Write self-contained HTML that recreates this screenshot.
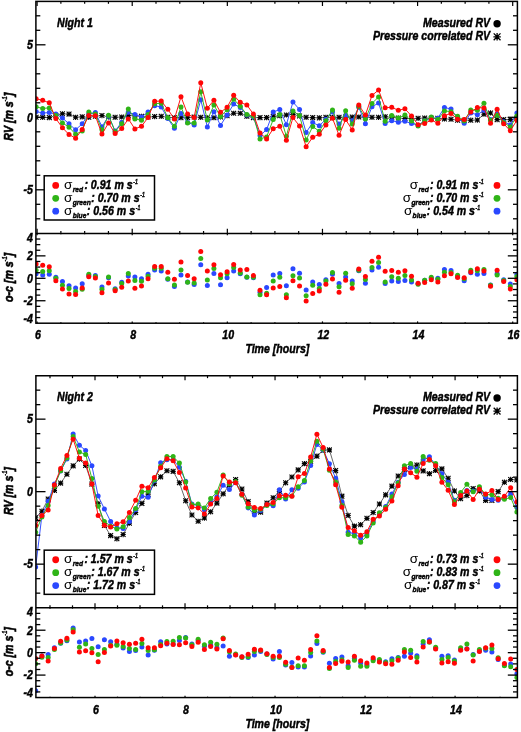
<!DOCTYPE html>
<html><head><meta charset="utf-8"><title>RV nights</title>
<style>
html,body{margin:0;padding:0;background:#fff}
svg{display:block}
text{font-family:"Liberation Sans",sans-serif;fill:#000}
.b{font-weight:bold;font-style:italic;stroke:#000;stroke-width:0.45px}
.s{font-weight:normal;font-style:normal}
.r{stroke-width:0.6px}
.u{stroke-width:0.3px}
</style></head><body>
<svg width="521" height="732" viewBox="0 0 521 732">
<rect width="521" height="732" fill="#fff"/>
<g>
<clipPath id="c0"><rect x="35.9" y="1.4" width="481.5" height="232"/></clipPath>
<clipPath id="c0l"><rect x="35.9" y="233.4" width="481.5" height="89.8"/></clipPath>
<g clip-path="url(#c0)">
<polyline points="36.1,117.3 42.69,117.3 49.27,117.59 55.86,115.41 62.44,113.82 69.03,114.11 75.62,117.3 82.2,116.86 88.79,117.3 95.37,116.28 101.96,115.56 108.55,117.01 115.13,117.3 121.72,117.01 128.3,115.27 134.89,115.99 141.48,116.28 148.06,117.01 154.65,116.58 161.23,116.28 167.82,117.3 174.41,117.73 180.99,117.73 187.58,117.73 194.16,117.01 200.75,117.3 207.34,117.73 213.92,117.73 220.51,117.01 227.09,115.7 233.68,113.24 240.27,113.24 246.85,116.28 253.44,117.59 260.02,117.59 266.61,117.59 273.2,116.28 279.78,115.7 286.37,114.98 292.95,114.4 299.54,115.99 306.13,117.3 312.71,117.59 319.3,117.88 325.88,117.3 332.47,117.3 339.06,117.3 345.64,117.01 352.23,117.01 358.81,117.01 365.4,117.3 371.99,117.3 378.57,117.3 385.16,116.72 391.74,117.3 398.33,118.02 404.92,118.61 411.5,118.61 418.09,118.31 424.67,118.02 431.26,118.31 437.85,118.31 444.43,118.89 451.02,119.19 457.6,120.2 464.19,120.2 470.78,120.2 477.36,120.05 483.95,114.25 490.53,112.95 497.12,119.62 503.71,119.62 510.29,119.62 516.88,118.31" fill="none" stroke="#000" stroke-width="0.6"/>
<path d="M33.5 117.3h5.2M36.1 114.7v5.2M33.7 114.9l4.8 4.8M33.7 119.7l4.8 -4.8M40.09 117.3h5.2M42.69 114.7v5.2M40.29 114.9l4.8 4.8M40.29 119.7l4.8 -4.8M46.67 117.59h5.2M49.27 114.99v5.2M46.87 115.19l4.8 4.8M46.87 119.99l4.8 -4.8M53.26 115.41h5.2M55.86 112.81v5.2M53.46 113.01l4.8 4.8M53.46 117.81l4.8 -4.8M59.84 113.82h5.2M62.44 111.22v5.2M60.04 111.42l4.8 4.8M60.04 116.22l4.8 -4.8M66.43 114.11h5.2M69.03 111.51v5.2M66.63 111.71l4.8 4.8M66.63 116.51l4.8 -4.8M73.02 117.3h5.2M75.62 114.7v5.2M73.22 114.9l4.8 4.8M73.22 119.7l4.8 -4.8M79.6 116.86h5.2M82.2 114.27v5.2M79.8 114.46l4.8 4.8M79.8 119.27l4.8 -4.8M86.19 117.3h5.2M88.79 114.7v5.2M86.39 114.9l4.8 4.8M86.39 119.7l4.8 -4.8M92.77 116.28h5.2M95.37 113.69v5.2M92.97 113.88l4.8 4.8M92.97 118.69l4.8 -4.8M99.36 115.56h5.2M101.96 112.96v5.2M99.56 113.16l4.8 4.8M99.56 117.96l4.8 -4.8M105.95 117.01h5.2M108.55 114.41v5.2M106.15 114.61l4.8 4.8M106.15 119.41l4.8 -4.8M112.53 117.3h5.2M115.13 114.7v5.2M112.73 114.9l4.8 4.8M112.73 119.7l4.8 -4.8M119.12 117.01h5.2M121.72 114.41v5.2M119.32 114.61l4.8 4.8M119.32 119.41l4.8 -4.8M125.7 115.27h5.2M128.3 112.67v5.2M125.9 112.87l4.8 4.8M125.9 117.67l4.8 -4.8M132.29 115.99h5.2M134.89 113.39v5.2M132.49 113.59l4.8 4.8M132.49 118.39l4.8 -4.8M138.88 116.28h5.2M141.48 113.69v5.2M139.08 113.88l4.8 4.8M139.08 118.69l4.8 -4.8M145.46 117.01h5.2M148.06 114.41v5.2M145.66 114.61l4.8 4.8M145.66 119.41l4.8 -4.8M152.05 116.58h5.2M154.65 113.98v5.2M152.25 114.17l4.8 4.8M152.25 118.98l4.8 -4.8M158.63 116.28h5.2M161.23 113.69v5.2M158.83 113.88l4.8 4.8M158.83 118.69l4.8 -4.8M165.22 117.3h5.2M167.82 114.7v5.2M165.42 114.9l4.8 4.8M165.42 119.7l4.8 -4.8M171.81 117.73h5.2M174.41 115.14v5.2M172.01 115.33l4.8 4.8M172.01 120.14l4.8 -4.8M178.39 117.73h5.2M180.99 115.14v5.2M178.59 115.33l4.8 4.8M178.59 120.14l4.8 -4.8M184.98 117.73h5.2M187.58 115.14v5.2M185.18 115.33l4.8 4.8M185.18 120.14l4.8 -4.8M191.56 117.01h5.2M194.16 114.41v5.2M191.76 114.61l4.8 4.8M191.76 119.41l4.8 -4.8M198.15 117.3h5.2M200.75 114.7v5.2M198.35 114.9l4.8 4.8M198.35 119.7l4.8 -4.8M204.74 117.73h5.2M207.34 115.14v5.2M204.94 115.33l4.8 4.8M204.94 120.14l4.8 -4.8M211.32 117.73h5.2M213.92 115.14v5.2M211.52 115.33l4.8 4.8M211.52 120.14l4.8 -4.8M217.91 117.01h5.2M220.51 114.41v5.2M218.11 114.61l4.8 4.8M218.11 119.41l4.8 -4.8M224.49 115.7h5.2M227.09 113.11v5.2M224.69 113.3l4.8 4.8M224.69 118.11l4.8 -4.8M231.08 113.24h5.2M233.68 110.64v5.2M231.28 110.84l4.8 4.8M231.28 115.64l4.8 -4.8M237.67 113.24h5.2M240.27 110.64v5.2M237.87 110.84l4.8 4.8M237.87 115.64l4.8 -4.8M244.25 116.28h5.2M246.85 113.69v5.2M244.45 113.88l4.8 4.8M244.45 118.69l4.8 -4.8M250.84 117.59h5.2M253.44 114.99v5.2M251.04 115.19l4.8 4.8M251.04 119.99l4.8 -4.8M257.42 117.59h5.2M260.02 114.99v5.2M257.62 115.19l4.8 4.8M257.62 119.99l4.8 -4.8M264.01 117.59h5.2M266.61 114.99v5.2M264.21 115.19l4.8 4.8M264.21 119.99l4.8 -4.8M270.6 116.28h5.2M273.2 113.69v5.2M270.8 113.88l4.8 4.8M270.8 118.69l4.8 -4.8M277.18 115.7h5.2M279.78 113.11v5.2M277.38 113.3l4.8 4.8M277.38 118.11l4.8 -4.8M283.77 114.98h5.2M286.37 112.38v5.2M283.97 112.58l4.8 4.8M283.97 117.38l4.8 -4.8M290.35 114.4h5.2M292.95 111.8v5.2M290.55 112l4.8 4.8M290.55 116.8l4.8 -4.8M296.94 115.99h5.2M299.54 113.39v5.2M297.14 113.59l4.8 4.8M297.14 118.39l4.8 -4.8M303.53 117.3h5.2M306.13 114.7v5.2M303.73 114.9l4.8 4.8M303.73 119.7l4.8 -4.8M310.11 117.59h5.2M312.71 114.99v5.2M310.31 115.19l4.8 4.8M310.31 119.99l4.8 -4.8M316.7 117.88h5.2M319.3 115.28v5.2M316.9 115.48l4.8 4.8M316.9 120.28l4.8 -4.8M323.28 117.3h5.2M325.88 114.7v5.2M323.48 114.9l4.8 4.8M323.48 119.7l4.8 -4.8M329.87 117.3h5.2M332.47 114.7v5.2M330.07 114.9l4.8 4.8M330.07 119.7l4.8 -4.8M336.46 117.3h5.2M339.06 114.7v5.2M336.66 114.9l4.8 4.8M336.66 119.7l4.8 -4.8M343.04 117.01h5.2M345.64 114.41v5.2M343.24 114.61l4.8 4.8M343.24 119.41l4.8 -4.8M349.63 117.01h5.2M352.23 114.41v5.2M349.83 114.61l4.8 4.8M349.83 119.41l4.8 -4.8M356.21 117.01h5.2M358.81 114.41v5.2M356.41 114.61l4.8 4.8M356.41 119.41l4.8 -4.8M362.8 117.3h5.2M365.4 114.7v5.2M363 114.9l4.8 4.8M363 119.7l4.8 -4.8M369.39 117.3h5.2M371.99 114.7v5.2M369.59 114.9l4.8 4.8M369.59 119.7l4.8 -4.8M375.97 117.3h5.2M378.57 114.7v5.2M376.17 114.9l4.8 4.8M376.17 119.7l4.8 -4.8M382.56 116.72h5.2M385.16 114.12v5.2M382.76 114.32l4.8 4.8M382.76 119.12l4.8 -4.8M389.14 117.3h5.2M391.74 114.7v5.2M389.34 114.9l4.8 4.8M389.34 119.7l4.8 -4.8M395.73 118.02h5.2M398.33 115.42v5.2M395.93 115.62l4.8 4.8M395.93 120.42l4.8 -4.8M402.32 118.61h5.2M404.92 116.01v5.2M402.52 116.2l4.8 4.8M402.52 121.01l4.8 -4.8M408.9 118.61h5.2M411.5 116.01v5.2M409.1 116.2l4.8 4.8M409.1 121.01l4.8 -4.8M415.49 118.31h5.2M418.09 115.72v5.2M415.69 115.91l4.8 4.8M415.69 120.72l4.8 -4.8M422.07 118.02h5.2M424.67 115.42v5.2M422.27 115.62l4.8 4.8M422.27 120.42l4.8 -4.8M428.66 118.31h5.2M431.26 115.72v5.2M428.86 115.91l4.8 4.8M428.86 120.72l4.8 -4.8M435.25 118.31h5.2M437.85 115.72v5.2M435.45 115.91l4.8 4.8M435.45 120.72l4.8 -4.8M441.83 118.89h5.2M444.43 116.3v5.2M442.03 116.49l4.8 4.8M442.03 121.3l4.8 -4.8M448.42 119.19h5.2M451.02 116.59v5.2M448.62 116.78l4.8 4.8M448.62 121.59l4.8 -4.8M455 120.2h5.2M457.6 117.6v5.2M455.2 117.8l4.8 4.8M455.2 122.6l4.8 -4.8M461.59 120.2h5.2M464.19 117.6v5.2M461.79 117.8l4.8 4.8M461.79 122.6l4.8 -4.8M468.18 120.2h5.2M470.78 117.6v5.2M468.38 117.8l4.8 4.8M468.38 122.6l4.8 -4.8M474.76 120.05h5.2M477.36 117.45v5.2M474.96 117.65l4.8 4.8M474.96 122.45l4.8 -4.8M481.35 114.25h5.2M483.95 111.66v5.2M481.55 111.85l4.8 4.8M481.55 116.66l4.8 -4.8M487.93 112.95h5.2M490.53 110.35v5.2M488.13 110.55l4.8 4.8M488.13 115.35l4.8 -4.8M494.52 119.62h5.2M497.12 117.02v5.2M494.72 117.22l4.8 4.8M494.72 122.02l4.8 -4.8M501.11 119.62h5.2M503.71 117.02v5.2M501.31 117.22l4.8 4.8M501.31 122.02l4.8 -4.8M507.69 119.62h5.2M510.29 117.02v5.2M507.89 117.22l4.8 4.8M507.89 122.02l4.8 -4.8M514.28 118.31h5.2M516.88 115.72v5.2M514.48 115.91l4.8 4.8M514.48 120.72l4.8 -4.8" stroke="#000" stroke-width="1.1" fill="none"/>
<polyline points="36.1,111.5 42.69,113.09 49.27,112.52 55.86,114.11 62.44,118.02 69.03,123.83 75.62,129.77 82.2,123.83 88.79,114.11 95.37,112.52 101.96,126.72 108.55,116.28 115.13,130.93 121.72,122.23 128.3,112.37 134.89,114.4 141.48,117.01 148.06,111.94 154.65,105.7 161.23,107 167.82,118.61 174.41,128.32 180.99,113.38 187.58,122.38 194.16,124.98 200.75,99.75 207.34,127.02 213.92,111.64 220.51,125.42 227.09,114.98 233.68,103.96 240.27,107.44 246.85,114.98 253.44,117.01 260.02,135.57 266.61,129.62 273.2,111.94 279.78,109.61 286.37,124.69 292.95,102.07 299.54,109.47 306.13,132.53 312.71,122.52 319.3,125.85 325.88,119.19 332.47,111.94 339.06,123.97 345.64,115.27 352.23,120.63 358.81,107.3 365.4,123.68 371.99,106.72 378.57,103.09 385.16,123.39 391.74,120.63 398.33,122.23 404.92,121.36 411.5,123.39 418.09,125.27 424.67,120.63 431.26,118.31 437.85,118.31 444.43,107.44 451.02,109.03 457.6,118.31 464.19,123.24 470.78,112.95 477.36,114.69 483.95,110.34 490.53,119.62 497.12,113.67 503.71,121.65 510.29,124.98 516.88,112.95" fill="none" stroke="#2a48ff" stroke-width="0.95"/>
<g fill="#2a48ff"><circle cx="36.1" cy="111.5" r="2.5"/><circle cx="42.69" cy="113.09" r="2.5"/><circle cx="49.27" cy="112.52" r="2.5"/><circle cx="55.86" cy="114.11" r="2.5"/><circle cx="62.44" cy="118.02" r="2.5"/><circle cx="69.03" cy="123.83" r="2.5"/><circle cx="75.62" cy="129.77" r="2.5"/><circle cx="82.2" cy="123.83" r="2.5"/><circle cx="88.79" cy="114.11" r="2.5"/><circle cx="95.37" cy="112.52" r="2.5"/><circle cx="101.96" cy="126.72" r="2.5"/><circle cx="108.55" cy="116.28" r="2.5"/><circle cx="115.13" cy="130.93" r="2.5"/><circle cx="121.72" cy="122.23" r="2.5"/><circle cx="128.3" cy="112.37" r="2.5"/><circle cx="134.89" cy="114.4" r="2.5"/><circle cx="141.48" cy="117.01" r="2.5"/><circle cx="148.06" cy="111.94" r="2.5"/><circle cx="154.65" cy="105.7" r="2.5"/><circle cx="161.23" cy="107" r="2.5"/><circle cx="167.82" cy="118.61" r="2.5"/><circle cx="174.41" cy="128.32" r="2.5"/><circle cx="180.99" cy="113.38" r="2.5"/><circle cx="187.58" cy="122.38" r="2.5"/><circle cx="194.16" cy="124.98" r="2.5"/><circle cx="200.75" cy="99.75" r="2.5"/><circle cx="207.34" cy="127.02" r="2.5"/><circle cx="213.92" cy="111.64" r="2.5"/><circle cx="220.51" cy="125.42" r="2.5"/><circle cx="227.09" cy="114.98" r="2.5"/><circle cx="233.68" cy="103.96" r="2.5"/><circle cx="240.27" cy="107.44" r="2.5"/><circle cx="246.85" cy="114.98" r="2.5"/><circle cx="253.44" cy="117.01" r="2.5"/><circle cx="260.02" cy="135.57" r="2.5"/><circle cx="266.61" cy="129.62" r="2.5"/><circle cx="273.2" cy="111.94" r="2.5"/><circle cx="279.78" cy="109.61" r="2.5"/><circle cx="286.37" cy="124.69" r="2.5"/><circle cx="292.95" cy="102.07" r="2.5"/><circle cx="299.54" cy="109.47" r="2.5"/><circle cx="306.13" cy="132.53" r="2.5"/><circle cx="312.71" cy="122.52" r="2.5"/><circle cx="319.3" cy="125.85" r="2.5"/><circle cx="325.88" cy="119.19" r="2.5"/><circle cx="332.47" cy="111.94" r="2.5"/><circle cx="339.06" cy="123.97" r="2.5"/><circle cx="345.64" cy="115.27" r="2.5"/><circle cx="352.23" cy="120.63" r="2.5"/><circle cx="358.81" cy="107.3" r="2.5"/><circle cx="365.4" cy="123.68" r="2.5"/><circle cx="371.99" cy="106.72" r="2.5"/><circle cx="378.57" cy="103.09" r="2.5"/><circle cx="385.16" cy="123.39" r="2.5"/><circle cx="391.74" cy="120.63" r="2.5"/><circle cx="398.33" cy="122.23" r="2.5"/><circle cx="404.92" cy="121.36" r="2.5"/><circle cx="411.5" cy="123.39" r="2.5"/><circle cx="418.09" cy="125.27" r="2.5"/><circle cx="424.67" cy="120.63" r="2.5"/><circle cx="431.26" cy="118.31" r="2.5"/><circle cx="437.85" cy="118.31" r="2.5"/><circle cx="444.43" cy="107.44" r="2.5"/><circle cx="451.02" cy="109.03" r="2.5"/><circle cx="457.6" cy="118.31" r="2.5"/><circle cx="464.19" cy="123.24" r="2.5"/><circle cx="470.78" cy="112.95" r="2.5"/><circle cx="477.36" cy="114.69" r="2.5"/><circle cx="483.95" cy="110.34" r="2.5"/><circle cx="490.53" cy="119.62" r="2.5"/><circle cx="497.12" cy="113.67" r="2.5"/><circle cx="503.71" cy="121.65" r="2.5"/><circle cx="510.29" cy="124.98" r="2.5"/><circle cx="516.88" cy="112.95" r="2.5"/></g>
<polyline points="36.1,106.86 42.69,108.45 49.27,107.88 55.86,115.41 62.44,122.95 69.03,127.16 75.62,134.26 82.2,131.07 88.79,112.08 95.37,114.11 101.96,129.77 108.55,115.27 115.13,131.66 121.72,123.68 128.3,109.03 134.89,118.89 141.48,120.2 148.06,114.4 154.65,103.67 161.23,103.23 167.82,117.73 174.41,126.29 180.99,107 187.58,122.95 194.16,122.95 200.75,91.78 207.34,120.05 213.92,105.12 220.51,116.43 227.09,109.76 233.68,99.17 240.27,106.28 246.85,114.55 253.44,116.28 260.02,138.91 266.61,136.88 273.2,119.62 279.78,114.4 286.37,136.29 292.95,111.06 299.54,115.56 306.13,139.92 312.71,126.58 319.3,131.22 325.88,120.63 332.47,109.91 339.06,128.18 345.64,110.63 352.23,123.97 358.81,106.57 365.4,118.89 371.99,103.38 378.57,97 385.16,121.36 391.74,115.41 398.33,118.02 404.92,115.12 411.5,120.92 418.09,126 424.67,120.63 431.26,117.01 437.85,119.62 444.43,110.92 451.02,111.64 457.6,116.28 464.19,120.92 470.78,109.91 477.36,110.34 483.95,103.23 490.53,120.34 497.12,115.27 503.71,122.38 510.29,127.02 516.88,115.99" fill="none" stroke="#2fb417" stroke-width="0.95"/>
<g fill="#2fb417"><circle cx="36.1" cy="106.86" r="2.5"/><circle cx="42.69" cy="108.45" r="2.5"/><circle cx="49.27" cy="107.88" r="2.5"/><circle cx="55.86" cy="115.41" r="2.5"/><circle cx="62.44" cy="122.95" r="2.5"/><circle cx="69.03" cy="127.16" r="2.5"/><circle cx="75.62" cy="134.26" r="2.5"/><circle cx="82.2" cy="131.07" r="2.5"/><circle cx="88.79" cy="112.08" r="2.5"/><circle cx="95.37" cy="114.11" r="2.5"/><circle cx="101.96" cy="129.77" r="2.5"/><circle cx="108.55" cy="115.27" r="2.5"/><circle cx="115.13" cy="131.66" r="2.5"/><circle cx="121.72" cy="123.68" r="2.5"/><circle cx="128.3" cy="109.03" r="2.5"/><circle cx="134.89" cy="118.89" r="2.5"/><circle cx="141.48" cy="120.2" r="2.5"/><circle cx="148.06" cy="114.4" r="2.5"/><circle cx="154.65" cy="103.67" r="2.5"/><circle cx="161.23" cy="103.23" r="2.5"/><circle cx="167.82" cy="117.73" r="2.5"/><circle cx="174.41" cy="126.29" r="2.5"/><circle cx="180.99" cy="107" r="2.5"/><circle cx="187.58" cy="122.95" r="2.5"/><circle cx="194.16" cy="122.95" r="2.5"/><circle cx="200.75" cy="91.78" r="2.5"/><circle cx="207.34" cy="120.05" r="2.5"/><circle cx="213.92" cy="105.12" r="2.5"/><circle cx="220.51" cy="116.43" r="2.5"/><circle cx="227.09" cy="109.76" r="2.5"/><circle cx="233.68" cy="99.17" r="2.5"/><circle cx="240.27" cy="106.28" r="2.5"/><circle cx="246.85" cy="114.55" r="2.5"/><circle cx="253.44" cy="116.28" r="2.5"/><circle cx="260.02" cy="138.91" r="2.5"/><circle cx="266.61" cy="136.88" r="2.5"/><circle cx="273.2" cy="119.62" r="2.5"/><circle cx="279.78" cy="114.4" r="2.5"/><circle cx="286.37" cy="136.29" r="2.5"/><circle cx="292.95" cy="111.06" r="2.5"/><circle cx="299.54" cy="115.56" r="2.5"/><circle cx="306.13" cy="139.92" r="2.5"/><circle cx="312.71" cy="126.58" r="2.5"/><circle cx="319.3" cy="131.22" r="2.5"/><circle cx="325.88" cy="120.63" r="2.5"/><circle cx="332.47" cy="109.91" r="2.5"/><circle cx="339.06" cy="128.18" r="2.5"/><circle cx="345.64" cy="110.63" r="2.5"/><circle cx="352.23" cy="123.97" r="2.5"/><circle cx="358.81" cy="106.57" r="2.5"/><circle cx="365.4" cy="118.89" r="2.5"/><circle cx="371.99" cy="103.38" r="2.5"/><circle cx="378.57" cy="97" r="2.5"/><circle cx="385.16" cy="121.36" r="2.5"/><circle cx="391.74" cy="115.41" r="2.5"/><circle cx="398.33" cy="118.02" r="2.5"/><circle cx="404.92" cy="115.12" r="2.5"/><circle cx="411.5" cy="120.92" r="2.5"/><circle cx="418.09" cy="126" r="2.5"/><circle cx="424.67" cy="120.63" r="2.5"/><circle cx="431.26" cy="117.01" r="2.5"/><circle cx="437.85" cy="119.62" r="2.5"/><circle cx="444.43" cy="110.92" r="2.5"/><circle cx="451.02" cy="111.64" r="2.5"/><circle cx="457.6" cy="116.28" r="2.5"/><circle cx="464.19" cy="120.92" r="2.5"/><circle cx="470.78" cy="109.91" r="2.5"/><circle cx="477.36" cy="110.34" r="2.5"/><circle cx="483.95" cy="103.23" r="2.5"/><circle cx="490.53" cy="120.34" r="2.5"/><circle cx="497.12" cy="115.27" r="2.5"/><circle cx="503.71" cy="122.38" r="2.5"/><circle cx="510.29" cy="127.02" r="2.5"/><circle cx="516.88" cy="115.99" r="2.5"/></g>
<polyline points="36.1,98.74 42.69,100.33 49.27,102.8 55.86,118.61 62.44,127.74 69.03,134.56 75.62,138.18 82.2,129.48 88.79,115.41 95.37,115.85 101.96,134.12 108.55,122.95 115.13,133.54 121.72,128.61 128.3,118.89 134.89,128.9 141.48,126.29 148.06,117.59 154.65,101.35 161.23,101.06 167.82,109.33 174.41,119.04 180.99,96.71 187.58,114.11 194.16,117.44 200.75,82.79 207.34,108.16 213.92,100.33 220.51,112.37 227.09,107.3 233.68,95.26 240.27,102.36 246.85,104.97 253.44,114.11 260.02,132.96 266.61,138.91 273.2,128.75 279.78,126.29 286.37,140.21 292.95,117.59 299.54,126 306.13,146.73 312.71,137.16 319.3,134.26 325.88,124.98 332.47,118.31 339.06,135.28 345.64,119.62 352.23,129.91 358.81,104.97 365.4,115.12 371.99,95.41 378.57,90.04 385.16,107.73 391.74,107.3 398.33,110.34 404.92,108.75 411.5,115.99 418.09,124.69 424.67,123.53 431.26,120.05 437.85,123.24 444.43,115.7 451.02,113.38 457.6,119.19 464.19,119.62 470.78,112.08 477.36,107.58 483.95,108.02 490.53,123.24 497.12,109.33 503.71,123.68 510.29,130.78 516.88,120.34" fill="none" stroke="#ff0606" stroke-width="0.95"/>
<g fill="#ff0606"><circle cx="36.1" cy="98.74" r="2.5"/><circle cx="42.69" cy="100.33" r="2.5"/><circle cx="49.27" cy="102.8" r="2.5"/><circle cx="55.86" cy="118.61" r="2.5"/><circle cx="62.44" cy="127.74" r="2.5"/><circle cx="69.03" cy="134.56" r="2.5"/><circle cx="75.62" cy="138.18" r="2.5"/><circle cx="82.2" cy="129.48" r="2.5"/><circle cx="88.79" cy="115.41" r="2.5"/><circle cx="95.37" cy="115.85" r="2.5"/><circle cx="101.96" cy="134.12" r="2.5"/><circle cx="108.55" cy="122.95" r="2.5"/><circle cx="115.13" cy="133.54" r="2.5"/><circle cx="121.72" cy="128.61" r="2.5"/><circle cx="128.3" cy="118.89" r="2.5"/><circle cx="134.89" cy="128.9" r="2.5"/><circle cx="141.48" cy="126.29" r="2.5"/><circle cx="148.06" cy="117.59" r="2.5"/><circle cx="154.65" cy="101.35" r="2.5"/><circle cx="161.23" cy="101.06" r="2.5"/><circle cx="167.82" cy="109.33" r="2.5"/><circle cx="174.41" cy="119.04" r="2.5"/><circle cx="180.99" cy="96.71" r="2.5"/><circle cx="187.58" cy="114.11" r="2.5"/><circle cx="194.16" cy="117.44" r="2.5"/><circle cx="200.75" cy="82.79" r="2.5"/><circle cx="207.34" cy="108.16" r="2.5"/><circle cx="213.92" cy="100.33" r="2.5"/><circle cx="220.51" cy="112.37" r="2.5"/><circle cx="227.09" cy="107.3" r="2.5"/><circle cx="233.68" cy="95.26" r="2.5"/><circle cx="240.27" cy="102.36" r="2.5"/><circle cx="246.85" cy="104.97" r="2.5"/><circle cx="253.44" cy="114.11" r="2.5"/><circle cx="260.02" cy="132.96" r="2.5"/><circle cx="266.61" cy="138.91" r="2.5"/><circle cx="273.2" cy="128.75" r="2.5"/><circle cx="279.78" cy="126.29" r="2.5"/><circle cx="286.37" cy="140.21" r="2.5"/><circle cx="292.95" cy="117.59" r="2.5"/><circle cx="299.54" cy="126" r="2.5"/><circle cx="306.13" cy="146.73" r="2.5"/><circle cx="312.71" cy="137.16" r="2.5"/><circle cx="319.3" cy="134.26" r="2.5"/><circle cx="325.88" cy="124.98" r="2.5"/><circle cx="332.47" cy="118.31" r="2.5"/><circle cx="339.06" cy="135.28" r="2.5"/><circle cx="345.64" cy="119.62" r="2.5"/><circle cx="352.23" cy="129.91" r="2.5"/><circle cx="358.81" cy="104.97" r="2.5"/><circle cx="365.4" cy="115.12" r="2.5"/><circle cx="371.99" cy="95.41" r="2.5"/><circle cx="378.57" cy="90.04" r="2.5"/><circle cx="385.16" cy="107.73" r="2.5"/><circle cx="391.74" cy="107.3" r="2.5"/><circle cx="398.33" cy="110.34" r="2.5"/><circle cx="404.92" cy="108.75" r="2.5"/><circle cx="411.5" cy="115.99" r="2.5"/><circle cx="418.09" cy="124.69" r="2.5"/><circle cx="424.67" cy="123.53" r="2.5"/><circle cx="431.26" cy="120.05" r="2.5"/><circle cx="437.85" cy="123.24" r="2.5"/><circle cx="444.43" cy="115.7" r="2.5"/><circle cx="451.02" cy="113.38" r="2.5"/><circle cx="457.6" cy="119.19" r="2.5"/><circle cx="464.19" cy="119.62" r="2.5"/><circle cx="470.78" cy="112.08" r="2.5"/><circle cx="477.36" cy="107.58" r="2.5"/><circle cx="483.95" cy="108.02" r="2.5"/><circle cx="490.53" cy="123.24" r="2.5"/><circle cx="497.12" cy="109.33" r="2.5"/><circle cx="503.71" cy="123.68" r="2.5"/><circle cx="510.29" cy="130.78" r="2.5"/><circle cx="516.88" cy="120.34" r="2.5"/></g>
</g>
<g clip-path="url(#c0l)">
<g fill="#2a48ff"><circle cx="36.1" cy="273.81" r="2.5"/><circle cx="42.69" cy="275.05" r="2.5"/><circle cx="49.27" cy="274.37" r="2.5"/><circle cx="55.86" cy="277.29" r="2.5"/><circle cx="62.44" cy="281.55" r="2.5"/><circle cx="69.03" cy="285.82" r="2.5"/><circle cx="75.62" cy="287.95" r="2.5"/><circle cx="82.2" cy="283.69" r="2.5"/><circle cx="88.79" cy="275.83" r="2.5"/><circle cx="95.37" cy="275.38" r="2.5"/><circle cx="101.96" cy="286.94" r="2.5"/><circle cx="108.55" cy="277.74" r="2.5"/><circle cx="115.13" cy="288.85" r="2.5"/><circle cx="121.72" cy="282.34" r="2.5"/><circle cx="128.3" cy="276.06" r="2.5"/><circle cx="134.89" cy="277.07" r="2.5"/><circle cx="141.48" cy="278.86" r="2.5"/><circle cx="148.06" cy="274.37" r="2.5"/><circle cx="154.65" cy="269.88" r="2.5"/><circle cx="161.23" cy="271.12" r="2.5"/><circle cx="167.82" cy="279.31" r="2.5"/><circle cx="174.41" cy="286.49" r="2.5"/><circle cx="180.99" cy="274.93" r="2.5"/><circle cx="187.58" cy="281.89" r="2.5"/><circle cx="194.16" cy="284.47" r="2.5"/><circle cx="200.75" cy="264.72" r="2.5"/><circle cx="207.34" cy="285.48" r="2.5"/><circle cx="213.92" cy="273.59" r="2.5"/><circle cx="220.51" cy="284.81" r="2.5"/><circle cx="227.09" cy="277.74" r="2.5"/><circle cx="233.68" cy="271.12" r="2.5"/><circle cx="240.27" cy="273.81" r="2.5"/><circle cx="246.85" cy="277.29" r="2.5"/><circle cx="253.44" cy="277.85" r="2.5"/><circle cx="260.02" cy="292.21" r="2.5"/><circle cx="266.61" cy="287.61" r="2.5"/><circle cx="273.2" cy="274.93" r="2.5"/><circle cx="279.78" cy="273.59" r="2.5"/><circle cx="286.37" cy="285.82" r="2.5"/><circle cx="292.95" cy="268.76" r="2.5"/><circle cx="299.54" cy="273.25" r="2.5"/><circle cx="306.13" cy="290.08" r="2.5"/><circle cx="312.71" cy="282.11" r="2.5"/><circle cx="319.3" cy="284.47" r="2.5"/><circle cx="325.88" cy="279.76" r="2.5"/><circle cx="332.47" cy="274.15" r="2.5"/><circle cx="339.06" cy="283.46" r="2.5"/><circle cx="345.64" cy="276.95" r="2.5"/><circle cx="352.23" cy="281.11" r="2.5"/><circle cx="358.81" cy="270.78" r="2.5"/><circle cx="365.4" cy="283.24" r="2.5"/><circle cx="371.99" cy="270.11" r="2.5"/><circle cx="378.57" cy="267.3" r="2.5"/><circle cx="385.16" cy="283.46" r="2.5"/><circle cx="391.74" cy="280.88" r="2.5"/><circle cx="398.33" cy="281.55" r="2.5"/><circle cx="404.92" cy="280.43" r="2.5"/><circle cx="411.5" cy="282" r="2.5"/><circle cx="418.09" cy="283.69" r="2.5"/><circle cx="424.67" cy="280.32" r="2.5"/><circle cx="431.26" cy="278.3" r="2.5"/><circle cx="437.85" cy="278.3" r="2.5"/><circle cx="444.43" cy="269.44" r="2.5"/><circle cx="451.02" cy="270.45" r="2.5"/><circle cx="457.6" cy="276.84" r="2.5"/><circle cx="464.19" cy="280.66" r="2.5"/><circle cx="470.78" cy="272.69" r="2.5"/><circle cx="477.36" cy="274.15" r="2.5"/><circle cx="483.95" cy="273.59" r="2.5"/><circle cx="490.53" cy="285.03" r="2.5"/><circle cx="497.12" cy="273.7" r="2.5"/><circle cx="503.71" cy="279.87" r="2.5"/><circle cx="510.29" cy="283.91" r="2.5"/><circle cx="516.88" cy="274.15" r="2.5"/></g>
<g fill="#2fb417"><circle cx="36.1" cy="270.22" r="2.5"/><circle cx="42.69" cy="271.46" r="2.5"/><circle cx="49.27" cy="270.78" r="2.5"/><circle cx="55.86" cy="278.3" r="2.5"/><circle cx="62.44" cy="285.37" r="2.5"/><circle cx="69.03" cy="288.4" r="2.5"/><circle cx="75.62" cy="291.43" r="2.5"/><circle cx="82.2" cy="289.3" r="2.5"/><circle cx="88.79" cy="274.26" r="2.5"/><circle cx="95.37" cy="276.62" r="2.5"/><circle cx="101.96" cy="289.3" r="2.5"/><circle cx="108.55" cy="276.95" r="2.5"/><circle cx="115.13" cy="289.41" r="2.5"/><circle cx="121.72" cy="283.46" r="2.5"/><circle cx="128.3" cy="273.48" r="2.5"/><circle cx="134.89" cy="280.54" r="2.5"/><circle cx="141.48" cy="281.33" r="2.5"/><circle cx="148.06" cy="276.28" r="2.5"/><circle cx="154.65" cy="268.31" r="2.5"/><circle cx="161.23" cy="268.2" r="2.5"/><circle cx="167.82" cy="278.64" r="2.5"/><circle cx="174.41" cy="284.92" r="2.5"/><circle cx="180.99" cy="270" r="2.5"/><circle cx="187.58" cy="282.34" r="2.5"/><circle cx="194.16" cy="282.9" r="2.5"/><circle cx="200.75" cy="258.55" r="2.5"/><circle cx="207.34" cy="280.1" r="2.5"/><circle cx="213.92" cy="268.54" r="2.5"/><circle cx="220.51" cy="277.85" r="2.5"/><circle cx="227.09" cy="273.7" r="2.5"/><circle cx="233.68" cy="267.42" r="2.5"/><circle cx="240.27" cy="272.91" r="2.5"/><circle cx="246.85" cy="276.95" r="2.5"/><circle cx="253.44" cy="277.29" r="2.5"/><circle cx="260.02" cy="294.79" r="2.5"/><circle cx="266.61" cy="293.22" r="2.5"/><circle cx="273.2" cy="280.88" r="2.5"/><circle cx="279.78" cy="277.29" r="2.5"/><circle cx="286.37" cy="294.79" r="2.5"/><circle cx="292.95" cy="275.72" r="2.5"/><circle cx="299.54" cy="277.96" r="2.5"/><circle cx="306.13" cy="295.8" r="2.5"/><circle cx="312.71" cy="285.26" r="2.5"/><circle cx="319.3" cy="288.62" r="2.5"/><circle cx="325.88" cy="280.88" r="2.5"/><circle cx="332.47" cy="272.58" r="2.5"/><circle cx="339.06" cy="286.72" r="2.5"/><circle cx="345.64" cy="273.36" r="2.5"/><circle cx="352.23" cy="283.69" r="2.5"/><circle cx="358.81" cy="270.22" r="2.5"/><circle cx="365.4" cy="279.53" r="2.5"/><circle cx="371.99" cy="267.53" r="2.5"/><circle cx="378.57" cy="262.59" r="2.5"/><circle cx="385.16" cy="281.89" r="2.5"/><circle cx="391.74" cy="276.84" r="2.5"/><circle cx="398.33" cy="278.3" r="2.5"/><circle cx="404.92" cy="275.61" r="2.5"/><circle cx="411.5" cy="280.1" r="2.5"/><circle cx="418.09" cy="284.25" r="2.5"/><circle cx="424.67" cy="280.32" r="2.5"/><circle cx="431.26" cy="277.29" r="2.5"/><circle cx="437.85" cy="279.31" r="2.5"/><circle cx="444.43" cy="272.13" r="2.5"/><circle cx="451.02" cy="272.47" r="2.5"/><circle cx="457.6" cy="275.27" r="2.5"/><circle cx="464.19" cy="278.86" r="2.5"/><circle cx="470.78" cy="270.33" r="2.5"/><circle cx="477.36" cy="270.78" r="2.5"/><circle cx="483.95" cy="269.55" r="2.5"/><circle cx="490.53" cy="285.26" r="2.5"/><circle cx="497.12" cy="274.93" r="2.5"/><circle cx="503.71" cy="280.43" r="2.5"/><circle cx="510.29" cy="286.38" r="2.5"/><circle cx="516.88" cy="276.5" r="2.5"/></g>
<g fill="#ff0606"><circle cx="36.1" cy="263.94" r="2.5"/><circle cx="42.69" cy="265.17" r="2.5"/><circle cx="49.27" cy="266.86" r="2.5"/><circle cx="55.86" cy="280.77" r="2.5"/><circle cx="62.44" cy="289.07" r="2.5"/><circle cx="69.03" cy="294.12" r="2.5"/><circle cx="75.62" cy="294.46" r="2.5"/><circle cx="82.2" cy="288.06" r="2.5"/><circle cx="88.79" cy="276.84" r="2.5"/><circle cx="95.37" cy="277.96" r="2.5"/><circle cx="101.96" cy="292.66" r="2.5"/><circle cx="108.55" cy="282.9" r="2.5"/><circle cx="115.13" cy="290.87" r="2.5"/><circle cx="121.72" cy="287.28" r="2.5"/><circle cx="128.3" cy="281.11" r="2.5"/><circle cx="134.89" cy="288.29" r="2.5"/><circle cx="141.48" cy="286.04" r="2.5"/><circle cx="148.06" cy="278.75" r="2.5"/><circle cx="154.65" cy="266.52" r="2.5"/><circle cx="161.23" cy="266.52" r="2.5"/><circle cx="167.82" cy="272.13" r="2.5"/><circle cx="174.41" cy="279.31" r="2.5"/><circle cx="180.99" cy="262.03" r="2.5"/><circle cx="187.58" cy="275.5" r="2.5"/><circle cx="194.16" cy="278.64" r="2.5"/><circle cx="200.75" cy="251.6" r="2.5"/><circle cx="207.34" cy="270.89" r="2.5"/><circle cx="213.92" cy="264.84" r="2.5"/><circle cx="220.51" cy="274.71" r="2.5"/><circle cx="227.09" cy="271.79" r="2.5"/><circle cx="233.68" cy="264.39" r="2.5"/><circle cx="240.27" cy="269.88" r="2.5"/><circle cx="246.85" cy="269.55" r="2.5"/><circle cx="253.44" cy="275.61" r="2.5"/><circle cx="260.02" cy="290.19" r="2.5"/><circle cx="266.61" cy="294.79" r="2.5"/><circle cx="273.2" cy="287.95" r="2.5"/><circle cx="279.78" cy="286.49" r="2.5"/><circle cx="286.37" cy="297.82" r="2.5"/><circle cx="292.95" cy="280.77" r="2.5"/><circle cx="299.54" cy="286.04" r="2.5"/><circle cx="306.13" cy="301.08" r="2.5"/><circle cx="312.71" cy="293.45" r="2.5"/><circle cx="319.3" cy="290.98" r="2.5"/><circle cx="325.88" cy="284.25" r="2.5"/><circle cx="332.47" cy="279.09" r="2.5"/><circle cx="339.06" cy="292.21" r="2.5"/><circle cx="345.64" cy="280.32" r="2.5"/><circle cx="352.23" cy="288.29" r="2.5"/><circle cx="358.81" cy="268.99" r="2.5"/><circle cx="365.4" cy="276.62" r="2.5"/><circle cx="371.99" cy="261.36" r="2.5"/><circle cx="378.57" cy="257.21" r="2.5"/><circle cx="385.16" cy="271.34" r="2.5"/><circle cx="391.74" cy="270.56" r="2.5"/><circle cx="398.33" cy="272.35" r="2.5"/><circle cx="404.92" cy="270.67" r="2.5"/><circle cx="411.5" cy="276.28" r="2.5"/><circle cx="418.09" cy="283.24" r="2.5"/><circle cx="424.67" cy="282.56" r="2.5"/><circle cx="431.26" cy="279.65" r="2.5"/><circle cx="437.85" cy="282.11" r="2.5"/><circle cx="444.43" cy="275.83" r="2.5"/><circle cx="451.02" cy="273.81" r="2.5"/><circle cx="457.6" cy="277.51" r="2.5"/><circle cx="464.19" cy="277.85" r="2.5"/><circle cx="470.78" cy="272.02" r="2.5"/><circle cx="477.36" cy="268.65" r="2.5"/><circle cx="483.95" cy="271.01" r="2.5"/><circle cx="490.53" cy="286.27" r="2.5"/><circle cx="497.12" cy="270.33" r="2.5"/><circle cx="503.71" cy="281.44" r="2.5"/><circle cx="510.29" cy="288.96" r="2.5"/><circle cx="516.88" cy="279.87" r="2.5"/></g>
</g>
<rect x="35.9" y="1.4" width="481.5" height="321.8" fill="none" stroke="#000" stroke-width="1.5"/>
<line x1="35.9" y1="233.4" x2="517.4" y2="233.4" stroke="#000" stroke-width="1.5"/>
<line x1="35.9" y1="218.8" x2="40.3" y2="218.8" stroke="#000" stroke-width="1.3"/>
<line x1="517.4" y1="218.8" x2="513" y2="218.8" stroke="#000" stroke-width="1.3"/>
<line x1="35.9" y1="204.3" x2="40.3" y2="204.3" stroke="#000" stroke-width="1.3"/>
<line x1="517.4" y1="204.3" x2="513" y2="204.3" stroke="#000" stroke-width="1.3"/>
<line x1="35.9" y1="189.8" x2="45.5" y2="189.8" stroke="#000" stroke-width="1.3"/>
<line x1="517.4" y1="189.8" x2="507.8" y2="189.8" stroke="#000" stroke-width="1.3"/>
<line x1="35.9" y1="175.3" x2="40.3" y2="175.3" stroke="#000" stroke-width="1.3"/>
<line x1="517.4" y1="175.3" x2="513" y2="175.3" stroke="#000" stroke-width="1.3"/>
<line x1="35.9" y1="160.8" x2="40.3" y2="160.8" stroke="#000" stroke-width="1.3"/>
<line x1="517.4" y1="160.8" x2="513" y2="160.8" stroke="#000" stroke-width="1.3"/>
<line x1="35.9" y1="146.3" x2="40.3" y2="146.3" stroke="#000" stroke-width="1.3"/>
<line x1="517.4" y1="146.3" x2="513" y2="146.3" stroke="#000" stroke-width="1.3"/>
<line x1="35.9" y1="131.8" x2="40.3" y2="131.8" stroke="#000" stroke-width="1.3"/>
<line x1="517.4" y1="131.8" x2="513" y2="131.8" stroke="#000" stroke-width="1.3"/>
<line x1="35.9" y1="117.3" x2="45.5" y2="117.3" stroke="#000" stroke-width="1.3"/>
<line x1="517.4" y1="117.3" x2="507.8" y2="117.3" stroke="#000" stroke-width="1.3"/>
<line x1="35.9" y1="102.8" x2="40.3" y2="102.8" stroke="#000" stroke-width="1.3"/>
<line x1="517.4" y1="102.8" x2="513" y2="102.8" stroke="#000" stroke-width="1.3"/>
<line x1="35.9" y1="88.3" x2="40.3" y2="88.3" stroke="#000" stroke-width="1.3"/>
<line x1="517.4" y1="88.3" x2="513" y2="88.3" stroke="#000" stroke-width="1.3"/>
<line x1="35.9" y1="73.8" x2="40.3" y2="73.8" stroke="#000" stroke-width="1.3"/>
<line x1="517.4" y1="73.8" x2="513" y2="73.8" stroke="#000" stroke-width="1.3"/>
<line x1="35.9" y1="59.3" x2="40.3" y2="59.3" stroke="#000" stroke-width="1.3"/>
<line x1="517.4" y1="59.3" x2="513" y2="59.3" stroke="#000" stroke-width="1.3"/>
<line x1="35.9" y1="44.8" x2="45.5" y2="44.8" stroke="#000" stroke-width="1.3"/>
<line x1="517.4" y1="44.8" x2="507.8" y2="44.8" stroke="#000" stroke-width="1.3"/>
<line x1="35.9" y1="30.3" x2="40.3" y2="30.3" stroke="#000" stroke-width="1.3"/>
<line x1="517.4" y1="30.3" x2="513" y2="30.3" stroke="#000" stroke-width="1.3"/>
<line x1="35.9" y1="15.8" x2="40.3" y2="15.8" stroke="#000" stroke-width="1.3"/>
<line x1="517.4" y1="15.8" x2="513" y2="15.8" stroke="#000" stroke-width="1.3"/>
<text class="b" transform="translate(33 49.1) scale(0.855 1)" font-size="12.4" text-anchor="end">5</text>
<text class="b" transform="translate(33 121.6) scale(0.855 1)" font-size="12.4" text-anchor="end">0</text>
<text class="b" transform="translate(33 194.1) scale(0.855 1)" font-size="12.4" text-anchor="end">-5</text>
<line x1="35.9" y1="317.57" x2="40.3" y2="317.57" stroke="#000" stroke-width="1.3"/>
<line x1="517.4" y1="317.57" x2="513" y2="317.57" stroke="#000" stroke-width="1.3"/>
<line x1="35.9" y1="311.96" x2="40.3" y2="311.96" stroke="#000" stroke-width="1.3"/>
<line x1="517.4" y1="311.96" x2="513" y2="311.96" stroke="#000" stroke-width="1.3"/>
<line x1="35.9" y1="306.35" x2="40.3" y2="306.35" stroke="#000" stroke-width="1.3"/>
<line x1="517.4" y1="306.35" x2="513" y2="306.35" stroke="#000" stroke-width="1.3"/>
<line x1="35.9" y1="300.74" x2="45.5" y2="300.74" stroke="#000" stroke-width="1.3"/>
<line x1="517.4" y1="300.74" x2="507.8" y2="300.74" stroke="#000" stroke-width="1.3"/>
<line x1="35.9" y1="295.13" x2="40.3" y2="295.13" stroke="#000" stroke-width="1.3"/>
<line x1="517.4" y1="295.13" x2="513" y2="295.13" stroke="#000" stroke-width="1.3"/>
<line x1="35.9" y1="289.52" x2="40.3" y2="289.52" stroke="#000" stroke-width="1.3"/>
<line x1="517.4" y1="289.52" x2="513" y2="289.52" stroke="#000" stroke-width="1.3"/>
<line x1="35.9" y1="283.91" x2="40.3" y2="283.91" stroke="#000" stroke-width="1.3"/>
<line x1="517.4" y1="283.91" x2="513" y2="283.91" stroke="#000" stroke-width="1.3"/>
<line x1="35.9" y1="278.3" x2="45.5" y2="278.3" stroke="#000" stroke-width="1.3"/>
<line x1="517.4" y1="278.3" x2="507.8" y2="278.3" stroke="#000" stroke-width="1.3"/>
<line x1="35.9" y1="272.69" x2="40.3" y2="272.69" stroke="#000" stroke-width="1.3"/>
<line x1="517.4" y1="272.69" x2="513" y2="272.69" stroke="#000" stroke-width="1.3"/>
<line x1="35.9" y1="267.08" x2="40.3" y2="267.08" stroke="#000" stroke-width="1.3"/>
<line x1="517.4" y1="267.08" x2="513" y2="267.08" stroke="#000" stroke-width="1.3"/>
<line x1="35.9" y1="261.47" x2="40.3" y2="261.47" stroke="#000" stroke-width="1.3"/>
<line x1="517.4" y1="261.47" x2="513" y2="261.47" stroke="#000" stroke-width="1.3"/>
<line x1="35.9" y1="255.86" x2="45.5" y2="255.86" stroke="#000" stroke-width="1.3"/>
<line x1="517.4" y1="255.86" x2="507.8" y2="255.86" stroke="#000" stroke-width="1.3"/>
<line x1="35.9" y1="250.25" x2="40.3" y2="250.25" stroke="#000" stroke-width="1.3"/>
<line x1="517.4" y1="250.25" x2="513" y2="250.25" stroke="#000" stroke-width="1.3"/>
<line x1="35.9" y1="244.64" x2="40.3" y2="244.64" stroke="#000" stroke-width="1.3"/>
<line x1="517.4" y1="244.64" x2="513" y2="244.64" stroke="#000" stroke-width="1.3"/>
<line x1="35.9" y1="239.03" x2="40.3" y2="239.03" stroke="#000" stroke-width="1.3"/>
<line x1="517.4" y1="239.03" x2="513" y2="239.03" stroke="#000" stroke-width="1.3"/>
<text class="b" transform="translate(33 241.82) scale(0.855 1)" font-size="12.4" text-anchor="end">4</text>
<text class="b" transform="translate(33 260.16) scale(0.855 1)" font-size="12.4" text-anchor="end">2</text>
<text class="b" transform="translate(33 282.6) scale(0.855 1)" font-size="12.4" text-anchor="end">0</text>
<text class="b" transform="translate(33 305.04) scale(0.855 1)" font-size="12.4" text-anchor="end">-2</text>
<text class="b" transform="translate(33 322.58) scale(0.855 1)" font-size="12.4" text-anchor="end">-4</text>
<line x1="37.1" y1="1.4" x2="37.1" y2="6" stroke="#000" stroke-width="1.2"/>
<line x1="37.1" y1="233.4" x2="37.1" y2="228.8" stroke="#000" stroke-width="1.2"/>
<line x1="37.1" y1="233.4" x2="37.1" y2="235.2" stroke="#000" stroke-width="1.2"/>
<line x1="37.1" y1="323.2" x2="37.1" y2="321.4" stroke="#000" stroke-width="1.2"/>
<line x1="60.88" y1="1.4" x2="60.88" y2="3.8" stroke="#000" stroke-width="1.2"/>
<line x1="60.88" y1="233.4" x2="60.88" y2="231" stroke="#000" stroke-width="1.2"/>
<line x1="60.88" y1="233.4" x2="60.88" y2="234.3" stroke="#000" stroke-width="1.2"/>
<line x1="60.88" y1="323.2" x2="60.88" y2="322.3" stroke="#000" stroke-width="1.2"/>
<line x1="84.66" y1="1.4" x2="84.66" y2="3.8" stroke="#000" stroke-width="1.2"/>
<line x1="84.66" y1="233.4" x2="84.66" y2="231" stroke="#000" stroke-width="1.2"/>
<line x1="84.66" y1="233.4" x2="84.66" y2="234.3" stroke="#000" stroke-width="1.2"/>
<line x1="84.66" y1="323.2" x2="84.66" y2="322.3" stroke="#000" stroke-width="1.2"/>
<line x1="108.44" y1="1.4" x2="108.44" y2="3.8" stroke="#000" stroke-width="1.2"/>
<line x1="108.44" y1="233.4" x2="108.44" y2="231" stroke="#000" stroke-width="1.2"/>
<line x1="108.44" y1="233.4" x2="108.44" y2="234.3" stroke="#000" stroke-width="1.2"/>
<line x1="108.44" y1="323.2" x2="108.44" y2="322.3" stroke="#000" stroke-width="1.2"/>
<line x1="132.22" y1="1.4" x2="132.22" y2="6" stroke="#000" stroke-width="1.2"/>
<line x1="132.22" y1="233.4" x2="132.22" y2="228.8" stroke="#000" stroke-width="1.2"/>
<line x1="132.22" y1="233.4" x2="132.22" y2="235.2" stroke="#000" stroke-width="1.2"/>
<line x1="132.22" y1="323.2" x2="132.22" y2="321.4" stroke="#000" stroke-width="1.2"/>
<line x1="156" y1="1.4" x2="156" y2="3.8" stroke="#000" stroke-width="1.2"/>
<line x1="156" y1="233.4" x2="156" y2="231" stroke="#000" stroke-width="1.2"/>
<line x1="156" y1="233.4" x2="156" y2="234.3" stroke="#000" stroke-width="1.2"/>
<line x1="156" y1="323.2" x2="156" y2="322.3" stroke="#000" stroke-width="1.2"/>
<line x1="179.78" y1="1.4" x2="179.78" y2="3.8" stroke="#000" stroke-width="1.2"/>
<line x1="179.78" y1="233.4" x2="179.78" y2="231" stroke="#000" stroke-width="1.2"/>
<line x1="179.78" y1="233.4" x2="179.78" y2="234.3" stroke="#000" stroke-width="1.2"/>
<line x1="179.78" y1="323.2" x2="179.78" y2="322.3" stroke="#000" stroke-width="1.2"/>
<line x1="203.56" y1="1.4" x2="203.56" y2="3.8" stroke="#000" stroke-width="1.2"/>
<line x1="203.56" y1="233.4" x2="203.56" y2="231" stroke="#000" stroke-width="1.2"/>
<line x1="203.56" y1="233.4" x2="203.56" y2="234.3" stroke="#000" stroke-width="1.2"/>
<line x1="203.56" y1="323.2" x2="203.56" y2="322.3" stroke="#000" stroke-width="1.2"/>
<line x1="227.34" y1="1.4" x2="227.34" y2="6" stroke="#000" stroke-width="1.2"/>
<line x1="227.34" y1="233.4" x2="227.34" y2="228.8" stroke="#000" stroke-width="1.2"/>
<line x1="227.34" y1="233.4" x2="227.34" y2="235.2" stroke="#000" stroke-width="1.2"/>
<line x1="227.34" y1="323.2" x2="227.34" y2="321.4" stroke="#000" stroke-width="1.2"/>
<line x1="251.12" y1="1.4" x2="251.12" y2="3.8" stroke="#000" stroke-width="1.2"/>
<line x1="251.12" y1="233.4" x2="251.12" y2="231" stroke="#000" stroke-width="1.2"/>
<line x1="251.12" y1="233.4" x2="251.12" y2="234.3" stroke="#000" stroke-width="1.2"/>
<line x1="251.12" y1="323.2" x2="251.12" y2="322.3" stroke="#000" stroke-width="1.2"/>
<line x1="274.9" y1="1.4" x2="274.9" y2="3.8" stroke="#000" stroke-width="1.2"/>
<line x1="274.9" y1="233.4" x2="274.9" y2="231" stroke="#000" stroke-width="1.2"/>
<line x1="274.9" y1="233.4" x2="274.9" y2="234.3" stroke="#000" stroke-width="1.2"/>
<line x1="274.9" y1="323.2" x2="274.9" y2="322.3" stroke="#000" stroke-width="1.2"/>
<line x1="298.68" y1="1.4" x2="298.68" y2="3.8" stroke="#000" stroke-width="1.2"/>
<line x1="298.68" y1="233.4" x2="298.68" y2="231" stroke="#000" stroke-width="1.2"/>
<line x1="298.68" y1="233.4" x2="298.68" y2="234.3" stroke="#000" stroke-width="1.2"/>
<line x1="298.68" y1="323.2" x2="298.68" y2="322.3" stroke="#000" stroke-width="1.2"/>
<line x1="322.46" y1="1.4" x2="322.46" y2="6" stroke="#000" stroke-width="1.2"/>
<line x1="322.46" y1="233.4" x2="322.46" y2="228.8" stroke="#000" stroke-width="1.2"/>
<line x1="322.46" y1="233.4" x2="322.46" y2="235.2" stroke="#000" stroke-width="1.2"/>
<line x1="322.46" y1="323.2" x2="322.46" y2="321.4" stroke="#000" stroke-width="1.2"/>
<line x1="346.24" y1="1.4" x2="346.24" y2="3.8" stroke="#000" stroke-width="1.2"/>
<line x1="346.24" y1="233.4" x2="346.24" y2="231" stroke="#000" stroke-width="1.2"/>
<line x1="346.24" y1="233.4" x2="346.24" y2="234.3" stroke="#000" stroke-width="1.2"/>
<line x1="346.24" y1="323.2" x2="346.24" y2="322.3" stroke="#000" stroke-width="1.2"/>
<line x1="370.02" y1="1.4" x2="370.02" y2="3.8" stroke="#000" stroke-width="1.2"/>
<line x1="370.02" y1="233.4" x2="370.02" y2="231" stroke="#000" stroke-width="1.2"/>
<line x1="370.02" y1="233.4" x2="370.02" y2="234.3" stroke="#000" stroke-width="1.2"/>
<line x1="370.02" y1="323.2" x2="370.02" y2="322.3" stroke="#000" stroke-width="1.2"/>
<line x1="393.8" y1="1.4" x2="393.8" y2="3.8" stroke="#000" stroke-width="1.2"/>
<line x1="393.8" y1="233.4" x2="393.8" y2="231" stroke="#000" stroke-width="1.2"/>
<line x1="393.8" y1="233.4" x2="393.8" y2="234.3" stroke="#000" stroke-width="1.2"/>
<line x1="393.8" y1="323.2" x2="393.8" y2="322.3" stroke="#000" stroke-width="1.2"/>
<line x1="417.58" y1="1.4" x2="417.58" y2="6" stroke="#000" stroke-width="1.2"/>
<line x1="417.58" y1="233.4" x2="417.58" y2="228.8" stroke="#000" stroke-width="1.2"/>
<line x1="417.58" y1="233.4" x2="417.58" y2="235.2" stroke="#000" stroke-width="1.2"/>
<line x1="417.58" y1="323.2" x2="417.58" y2="321.4" stroke="#000" stroke-width="1.2"/>
<line x1="441.36" y1="1.4" x2="441.36" y2="3.8" stroke="#000" stroke-width="1.2"/>
<line x1="441.36" y1="233.4" x2="441.36" y2="231" stroke="#000" stroke-width="1.2"/>
<line x1="441.36" y1="233.4" x2="441.36" y2="234.3" stroke="#000" stroke-width="1.2"/>
<line x1="441.36" y1="323.2" x2="441.36" y2="322.3" stroke="#000" stroke-width="1.2"/>
<line x1="465.14" y1="1.4" x2="465.14" y2="3.8" stroke="#000" stroke-width="1.2"/>
<line x1="465.14" y1="233.4" x2="465.14" y2="231" stroke="#000" stroke-width="1.2"/>
<line x1="465.14" y1="233.4" x2="465.14" y2="234.3" stroke="#000" stroke-width="1.2"/>
<line x1="465.14" y1="323.2" x2="465.14" y2="322.3" stroke="#000" stroke-width="1.2"/>
<line x1="488.92" y1="1.4" x2="488.92" y2="3.8" stroke="#000" stroke-width="1.2"/>
<line x1="488.92" y1="233.4" x2="488.92" y2="231" stroke="#000" stroke-width="1.2"/>
<line x1="488.92" y1="233.4" x2="488.92" y2="234.3" stroke="#000" stroke-width="1.2"/>
<line x1="488.92" y1="323.2" x2="488.92" y2="322.3" stroke="#000" stroke-width="1.2"/>
<line x1="512.7" y1="1.4" x2="512.7" y2="6" stroke="#000" stroke-width="1.2"/>
<line x1="512.7" y1="233.4" x2="512.7" y2="228.8" stroke="#000" stroke-width="1.2"/>
<line x1="512.7" y1="233.4" x2="512.7" y2="235.2" stroke="#000" stroke-width="1.2"/>
<line x1="512.7" y1="323.2" x2="512.7" y2="321.4" stroke="#000" stroke-width="1.2"/>
<text class="b" transform="translate(38 339.4) scale(0.855 1)" font-size="12.4" text-anchor="middle">6</text>
<text class="b" transform="translate(133.12 339.4) scale(0.855 1)" font-size="12.4" text-anchor="middle">8</text>
<text class="b" transform="translate(228.24 339.4) scale(0.855 1)" font-size="12.4" text-anchor="middle">10</text>
<text class="b" transform="translate(323.36 339.4) scale(0.855 1)" font-size="12.4" text-anchor="middle">12</text>
<text class="b" transform="translate(418.48 339.4) scale(0.855 1)" font-size="12.4" text-anchor="middle">14</text>
<text class="b" transform="translate(513.6 339.4) scale(0.855 1)" font-size="12.4" text-anchor="middle">16</text>
<text class="b" transform="translate(277.35 353.2) scale(0.855 1)" font-size="12.4" text-anchor="middle">Time [hours]</text>
<text class="b r" transform="translate(12.9 116.8) rotate(-90) scale(0.855 1)" font-size="12.4" text-anchor="middle">RV [m s<tspan class="u" font-size="6.6" dy="-6">-1</tspan><tspan dy="6">]</tspan></text>
<text class="b r" transform="translate(12.9 277.4) rotate(-90) scale(0.855 1)" font-size="12.4" text-anchor="middle">o-c [m s<tspan class="u" font-size="6.6" dy="-6">-1</tspan><tspan dy="6">]</tspan></text>
<text class="b" transform="translate(57 26.6) scale(0.855 1)" font-size="12.4" text-anchor="start">Night 1</text>
<text class="b" transform="translate(490.1 26.6) scale(0.855 1)" font-size="12.4" text-anchor="end">Measured RV</text>
<text class="b" transform="translate(490.1 39.7) scale(0.855 1)" font-size="12.4" text-anchor="end">Pressure correlated RV</text>
<circle cx="497.1" cy="23.7" r="3.7" fill="#000"/>
<path d="M493.4 36.8h7.4M497.1 33.1v7.4M493.7 33.4l6.8 6.8M493.7 40.2l6.8 -6.8" stroke="#000" stroke-width="1.3" fill="none"/>
<rect x="44.2" y="175.8" width="110.3" height="44.2" fill="#fff" stroke="#000" stroke-width="1.5"/>
<circle cx="55.7" cy="185.4" r="3.4" fill="#ff0606"/>
<circle cx="497" cy="185.4" r="3.4" fill="#ff0606"/>
<text class="s" transform="translate(64 189) scale(1.0 1)" font-size="13.6" text-anchor="start">σ</text>
<text class="b" transform="translate(72.7 192) scale(0.855 1)" font-size="7.8" text-anchor="start">red</text>
<text class="b" transform="translate(84.4 189) scale(0.855 1)" font-size="12.4" text-anchor="start">: 0.91 m s</text>
<text class="b u" transform="translate(133.3 184) scale(0.72 1)" font-size="7.2" text-anchor="start">-1</text>
<text class="s" transform="translate(409.7 189) scale(1.0 1)" font-size="13.6" text-anchor="start">σ</text>
<text class="b" transform="translate(418.4 192) scale(0.855 1)" font-size="7.8" text-anchor="start">red</text>
<text class="b" transform="translate(430.1 189) scale(0.855 1)" font-size="12.4" text-anchor="start">: 0.91 m s</text>
<text class="b u" transform="translate(479 184) scale(0.72 1)" font-size="7.2" text-anchor="start">-1</text>
<circle cx="55.7" cy="198.3" r="3.4" fill="#2fb417"/>
<circle cx="497" cy="198.3" r="3.4" fill="#2fb417"/>
<text class="s" transform="translate(64 201.9) scale(1.0 1)" font-size="13.6" text-anchor="start">σ</text>
<text class="b" transform="translate(72.7 204.9) scale(0.855 1)" font-size="7.8" text-anchor="start">green</text>
<text class="b" transform="translate(91.3 201.9) scale(0.855 1)" font-size="12.4" text-anchor="start">: 0.70 m s</text>
<text class="b u" transform="translate(140.2 196.9) scale(0.72 1)" font-size="7.2" text-anchor="start">-1</text>
<text class="s" transform="translate(402.8 201.9) scale(1.0 1)" font-size="13.6" text-anchor="start">σ</text>
<text class="b" transform="translate(411.5 204.9) scale(0.855 1)" font-size="7.8" text-anchor="start">green</text>
<text class="b" transform="translate(430.1 201.9) scale(0.855 1)" font-size="12.4" text-anchor="start">: 0.70 m s</text>
<text class="b u" transform="translate(479 196.9) scale(0.72 1)" font-size="7.2" text-anchor="start">-1</text>
<circle cx="55.7" cy="211.2" r="3.4" fill="#2a48ff"/>
<circle cx="497" cy="211.2" r="3.4" fill="#2a48ff"/>
<text class="s" transform="translate(64 214.8) scale(1.0 1)" font-size="13.6" text-anchor="start">σ</text>
<text class="b" transform="translate(72.7 217.8) scale(0.855 1)" font-size="7.8" text-anchor="start">blue</text>
<text class="b" transform="translate(86.8 214.8) scale(0.855 1)" font-size="12.4" text-anchor="start">: 0.56 m s</text>
<text class="b u" transform="translate(135.7 209.8) scale(0.72 1)" font-size="7.2" text-anchor="start">-1</text>
<text class="s" transform="translate(403.9 214.8) scale(1.0 1)" font-size="13.6" text-anchor="start">σ</text>
<text class="b" transform="translate(412.6 217.8) scale(0.855 1)" font-size="7.8" text-anchor="start">blue</text>
<text class="b" transform="translate(426.7 214.8) scale(0.855 1)" font-size="12.4" text-anchor="start">: 0.54 m s</text>
<text class="b u" transform="translate(475.6 209.8) scale(0.72 1)" font-size="7.2" text-anchor="start">-1</text>
</g>
<g>
<clipPath id="c374"><rect x="35.9" y="375.75" width="481.5" height="232"/></clipPath>
<clipPath id="c374l"><rect x="35.9" y="607.75" width="481.5" height="89.8"/></clipPath>
<g clip-path="url(#c374)">
<polyline points="35.65,517.75 41.9,511.23 48.15,499.05 54.4,490.35 60.65,483.1 66.9,474.25 73.15,465.84 79.4,459.03 85.65,465.41 91.9,484.11 98.15,503.69 104.4,525.44 110.65,535.59 116.9,538.78 123.15,534.57 129.4,523.12 135.65,512.53 141.9,503.4 148.15,494.12 154.4,483.82 160.65,476.86 166.9,470.77 173.15,471.35 179.4,482.81 185.65,500.79 191.9,515 198.15,521.23 204.4,518.04 210.65,511.81 216.9,503.11 223.15,493.83 229.4,484.84 235.65,479.62 241.9,489.04 248.15,501.66 254.4,511.81 260.65,512.1 266.9,503.11 273.15,497.74 279.4,491.36 285.65,482.81 291.9,477.01 298.15,469.9 304.4,463.67 310.65,461.2 316.9,456.12 323.15,450.33 329.4,449.89 335.65,470.63 341.9,496.15 348.15,515.43 354.4,526.16 360.65,524.71 366.9,518.33 373.15,512.53 379.4,503.98 385.65,494.84 391.9,486.14 398.15,475.99 404.4,469.76 410.65,466.57 416.9,464.97 423.15,470.92 429.4,473.67 435.65,470.48 441.9,468.89 448.15,478.31 454.4,490.93 460.65,498.76 466.9,495.57 473.15,488.61 479.4,490.93 485.65,500.35 491.9,500.35 498.15,491.65 504.4,482.23 510.65,479.47 516.9,480.05" fill="none" stroke="#000" stroke-width="0.6"/>
<path d="M33.05 517.75h5.2M35.65 515.15v5.2M33.25 515.35l4.8 4.8M33.25 520.15l4.8 -4.8M39.3 511.23h5.2M41.9 508.62v5.2M39.5 508.83l4.8 4.8M39.5 513.62l4.8 -4.8M45.55 499.05h5.2M48.15 496.44v5.2M45.75 496.65l4.8 4.8M45.75 501.44l4.8 -4.8M51.8 490.35h5.2M54.4 487.75v5.2M52 487.95l4.8 4.8M52 492.75l4.8 -4.8M58.05 483.1h5.2M60.65 480.5v5.2M58.25 480.7l4.8 4.8M58.25 485.5l4.8 -4.8M64.3 474.25h5.2M66.9 471.65v5.2M64.5 471.85l4.8 4.8M64.5 476.65l4.8 -4.8M70.55 465.84h5.2M73.15 463.24v5.2M70.75 463.44l4.8 4.8M70.75 468.24l4.8 -4.8M76.8 459.03h5.2M79.4 456.43v5.2M77 456.63l4.8 4.8M77 461.43l4.8 -4.8M83.05 465.41h5.2M85.65 462.81v5.2M83.25 463.01l4.8 4.8M83.25 467.81l4.8 -4.8M89.3 484.11h5.2M91.9 481.51v5.2M89.5 481.71l4.8 4.8M89.5 486.51l4.8 -4.8M95.55 503.69h5.2M98.15 501.09v5.2M95.75 501.29l4.8 4.8M95.75 506.09l4.8 -4.8M101.8 525.44h5.2M104.4 522.84v5.2M102 523.04l4.8 4.8M102 527.84l4.8 -4.8M108.05 535.59h5.2M110.65 532.99v5.2M108.25 533.19l4.8 4.8M108.25 537.99l4.8 -4.8M114.3 538.78h5.2M116.9 536.18v5.2M114.5 536.38l4.8 4.8M114.5 541.18l4.8 -4.8M120.55 534.57h5.2M123.15 531.97v5.2M120.75 532.17l4.8 4.8M120.75 536.97l4.8 -4.8M126.8 523.12h5.2M129.4 520.51v5.2M127 520.72l4.8 4.8M127 525.51l4.8 -4.8M133.05 512.53h5.2M135.65 509.93v5.2M133.25 510.13l4.8 4.8M133.25 514.93l4.8 -4.8M139.3 503.4h5.2M141.9 500.8v5.2M139.5 501l4.8 4.8M139.5 505.8l4.8 -4.8M145.55 494.12h5.2M148.15 491.51v5.2M145.75 491.72l4.8 4.8M145.75 496.51l4.8 -4.8M151.8 483.82h5.2M154.4 481.22v5.2M152 481.42l4.8 4.8M152 486.22l4.8 -4.8M158.05 476.86h5.2M160.65 474.26v5.2M158.25 474.46l4.8 4.8M158.25 479.26l4.8 -4.8M164.3 470.77h5.2M166.9 468.17v5.2M164.5 468.37l4.8 4.8M164.5 473.17l4.8 -4.8M170.55 471.35h5.2M173.15 468.75v5.2M170.75 468.95l4.8 4.8M170.75 473.75l4.8 -4.8M176.8 482.81h5.2M179.4 480.2v5.2M177 480.41l4.8 4.8M177 485.2l4.8 -4.8M183.05 500.79h5.2M185.65 498.19v5.2M183.25 498.39l4.8 4.8M183.25 503.19l4.8 -4.8M189.3 515h5.2M191.9 512.39v5.2M189.5 512.6l4.8 4.8M189.5 517.39l4.8 -4.8M195.55 521.23h5.2M198.15 518.63v5.2M195.75 518.83l4.8 4.8M195.75 523.63l4.8 -4.8M201.8 518.04h5.2M204.4 515.44v5.2M202 515.64l4.8 4.8M202 520.44l4.8 -4.8M208.05 511.81h5.2M210.65 509.2v5.2M208.25 509.41l4.8 4.8M208.25 514.21l4.8 -4.8M214.3 503.11h5.2M216.9 500.5v5.2M214.5 500.71l4.8 4.8M214.5 505.5l4.8 -4.8M220.55 493.83h5.2M223.15 491.23v5.2M220.75 491.43l4.8 4.8M220.75 496.23l4.8 -4.8M226.8 484.84h5.2M229.4 482.24v5.2M227 482.44l4.8 4.8M227 487.24l4.8 -4.8M233.05 479.62h5.2M235.65 477.01v5.2M233.25 477.22l4.8 4.8M233.25 482.01l4.8 -4.8M239.3 489.04h5.2M241.9 486.44v5.2M239.5 486.64l4.8 4.8M239.5 491.44l4.8 -4.8M245.55 501.66h5.2M248.15 499.06v5.2M245.75 499.26l4.8 4.8M245.75 504.06l4.8 -4.8M251.8 511.81h5.2M254.4 509.2v5.2M252 509.41l4.8 4.8M252 514.21l4.8 -4.8M258.05 512.1h5.2M260.65 509.5v5.2M258.25 509.7l4.8 4.8M258.25 514.5l4.8 -4.8M264.3 503.11h5.2M266.9 500.5v5.2M264.5 500.71l4.8 4.8M264.5 505.5l4.8 -4.8M270.55 497.74h5.2M273.15 495.14v5.2M270.75 495.34l4.8 4.8M270.75 500.14l4.8 -4.8M276.8 491.36h5.2M279.4 488.76v5.2M277 488.96l4.8 4.8M277 493.76l4.8 -4.8M283.05 482.81h5.2M285.65 480.2v5.2M283.25 480.41l4.8 4.8M283.25 485.2l4.8 -4.8M289.3 477.01h5.2M291.9 474.41v5.2M289.5 474.61l4.8 4.8M289.5 479.41l4.8 -4.8M295.55 469.9h5.2M298.15 467.3v5.2M295.75 467.5l4.8 4.8M295.75 472.3l4.8 -4.8M301.8 463.67h5.2M304.4 461.06v5.2M302 461.27l4.8 4.8M302 466.06l4.8 -4.8M308.05 461.2h5.2M310.65 458.6v5.2M308.25 458.8l4.8 4.8M308.25 463.6l4.8 -4.8M314.3 456.12h5.2M316.9 453.52v5.2M314.5 453.73l4.8 4.8M314.5 458.52l4.8 -4.8M320.55 450.33h5.2M323.15 447.73v5.2M320.75 447.93l4.8 4.8M320.75 452.73l4.8 -4.8M326.8 449.89h5.2M329.4 447.29v5.2M327 447.49l4.8 4.8M327 452.29l4.8 -4.8M333.05 470.63h5.2M335.65 468.03v5.2M333.25 468.23l4.8 4.8M333.25 473.03l4.8 -4.8M339.3 496.15h5.2M341.9 493.55v5.2M339.5 493.75l4.8 4.8M339.5 498.55l4.8 -4.8M345.55 515.43h5.2M348.15 512.83v5.2M345.75 513.03l4.8 4.8M345.75 517.83l4.8 -4.8M351.8 526.16h5.2M354.4 523.56v5.2M352 523.76l4.8 4.8M352 528.56l4.8 -4.8M358.05 524.71h5.2M360.65 522.11v5.2M358.25 522.31l4.8 4.8M358.25 527.11l4.8 -4.8M364.3 518.33h5.2M366.9 515.73v5.2M364.5 515.93l4.8 4.8M364.5 520.73l4.8 -4.8M370.55 512.53h5.2M373.15 509.93v5.2M370.75 510.13l4.8 4.8M370.75 514.93l4.8 -4.8M376.8 503.98h5.2M379.4 501.38v5.2M377 501.58l4.8 4.8M377 506.38l4.8 -4.8M383.05 494.84h5.2M385.65 492.24v5.2M383.25 492.44l4.8 4.8M383.25 497.24l4.8 -4.8M389.3 486.14h5.2M391.9 483.54v5.2M389.5 483.74l4.8 4.8M389.5 488.54l4.8 -4.8M395.55 475.99h5.2M398.15 473.39v5.2M395.75 473.59l4.8 4.8M395.75 478.39l4.8 -4.8M401.8 469.76h5.2M404.4 467.16v5.2M402 467.36l4.8 4.8M402 472.16l4.8 -4.8M408.05 466.57h5.2M410.65 463.97v5.2M408.25 464.17l4.8 4.8M408.25 468.97l4.8 -4.8M414.3 464.97h5.2M416.9 462.37v5.2M414.5 462.57l4.8 4.8M414.5 467.37l4.8 -4.8M420.55 470.92h5.2M423.15 468.31v5.2M420.75 468.52l4.8 4.8M420.75 473.31l4.8 -4.8M426.8 473.67h5.2M429.4 471.07v5.2M427 471.27l4.8 4.8M427 476.07l4.8 -4.8M433.05 470.48h5.2M435.65 467.88v5.2M433.25 468.08l4.8 4.8M433.25 472.88l4.8 -4.8M439.3 468.89h5.2M441.9 466.29v5.2M439.5 466.49l4.8 4.8M439.5 471.29l4.8 -4.8M445.55 478.31h5.2M448.15 475.71v5.2M445.75 475.91l4.8 4.8M445.75 480.71l4.8 -4.8M451.8 490.93h5.2M454.4 488.32v5.2M452 488.53l4.8 4.8M452 493.32l4.8 -4.8M458.05 498.76h5.2M460.65 496.16v5.2M458.25 496.36l4.8 4.8M458.25 501.16l4.8 -4.8M464.3 495.57h5.2M466.9 492.97v5.2M464.5 493.17l4.8 4.8M464.5 497.97l4.8 -4.8M470.55 488.61h5.2M473.15 486v5.2M470.75 486.21l4.8 4.8M470.75 491l4.8 -4.8M476.8 490.93h5.2M479.4 488.32v5.2M477 488.53l4.8 4.8M477 493.32l4.8 -4.8M483.05 500.35h5.2M485.65 497.75v5.2M483.25 497.95l4.8 4.8M483.25 502.75l4.8 -4.8M489.3 500.35h5.2M491.9 497.75v5.2M489.5 497.95l4.8 4.8M489.5 502.75l4.8 -4.8M495.55 491.65h5.2M498.15 489.05v5.2M495.75 489.25l4.8 4.8M495.75 494.05l4.8 -4.8M501.8 482.23h5.2M504.4 479.62v5.2M502 479.83l4.8 4.8M502 484.62l4.8 -4.8M508.05 479.47h5.2M510.65 476.87v5.2M508.25 477.07l4.8 4.8M508.25 481.87l4.8 -4.8M514.3 480.05h5.2M516.9 477.45v5.2M514.5 477.65l4.8 4.8M514.5 482.45l4.8 -4.8" stroke="#000" stroke-width="1.1" fill="none"/>
<polyline points="35.65,567.05 41.9,515.58 48.15,501.37 54.4,484.11 60.65,471.06 66.9,459.03 73.15,434.09 79.4,445.25 85.65,450.47 91.9,465.84 98.15,496 104.4,508.91 110.65,521.52 116.9,527.9 123.15,528.62 129.4,521.52 135.65,509.78 141.9,496.15 148.15,497.16 154.4,480.78 160.65,462.65 166.9,459.75 173.15,460.04 179.4,467.15 185.65,481.21 191.9,503.98 198.15,505.43 204.4,509.78 210.65,502.38 216.9,496.87 223.15,485.13 229.4,489.62 235.65,482.23 241.9,494.55 248.15,507.89 254.4,515 260.65,510.5 266.9,504.7 273.15,505.86 279.4,489.77 285.65,498.9 291.9,489.77 298.15,488.32 304.4,482.08 310.65,465.55 316.9,444.38 323.15,449.89 329.4,463.67 335.65,478.17 341.9,501.66 348.15,532.25 354.4,533.7 360.65,538.05 366.9,533.99 373.15,521.38 379.4,514.42 385.65,506.59 391.9,494.12 398.15,482.23 404.4,474.4 410.65,467.44 416.9,469.03 423.15,459.75 429.4,456.85 435.65,464.68 441.9,473.67 448.15,482.37 454.4,500.35 460.65,494.84 466.9,490.49 473.15,490.93 479.4,488.75 485.65,497.16 491.9,499.48 498.15,500.35 504.4,498.03 510.65,494.12 516.9,507.46" fill="none" stroke="#2a48ff" stroke-width="0.95"/>
<g fill="#2a48ff"><circle cx="35.65" cy="567.05" r="2.5"/><circle cx="41.9" cy="515.58" r="2.5"/><circle cx="48.15" cy="501.37" r="2.5"/><circle cx="54.4" cy="484.11" r="2.5"/><circle cx="60.65" cy="471.06" r="2.5"/><circle cx="66.9" cy="459.03" r="2.5"/><circle cx="73.15" cy="434.09" r="2.5"/><circle cx="79.4" cy="445.25" r="2.5"/><circle cx="85.65" cy="450.47" r="2.5"/><circle cx="91.9" cy="465.84" r="2.5"/><circle cx="98.15" cy="496" r="2.5"/><circle cx="104.4" cy="508.91" r="2.5"/><circle cx="110.65" cy="521.52" r="2.5"/><circle cx="116.9" cy="527.9" r="2.5"/><circle cx="123.15" cy="528.62" r="2.5"/><circle cx="129.4" cy="521.52" r="2.5"/><circle cx="135.65" cy="509.78" r="2.5"/><circle cx="141.9" cy="496.15" r="2.5"/><circle cx="148.15" cy="497.16" r="2.5"/><circle cx="154.4" cy="480.78" r="2.5"/><circle cx="160.65" cy="462.65" r="2.5"/><circle cx="166.9" cy="459.75" r="2.5"/><circle cx="173.15" cy="460.04" r="2.5"/><circle cx="179.4" cy="467.15" r="2.5"/><circle cx="185.65" cy="481.21" r="2.5"/><circle cx="191.9" cy="503.98" r="2.5"/><circle cx="198.15" cy="505.43" r="2.5"/><circle cx="204.4" cy="509.78" r="2.5"/><circle cx="210.65" cy="502.38" r="2.5"/><circle cx="216.9" cy="496.87" r="2.5"/><circle cx="223.15" cy="485.13" r="2.5"/><circle cx="229.4" cy="489.62" r="2.5"/><circle cx="235.65" cy="482.23" r="2.5"/><circle cx="241.9" cy="494.55" r="2.5"/><circle cx="248.15" cy="507.89" r="2.5"/><circle cx="254.4" cy="515" r="2.5"/><circle cx="260.65" cy="510.5" r="2.5"/><circle cx="266.9" cy="504.7" r="2.5"/><circle cx="273.15" cy="505.86" r="2.5"/><circle cx="279.4" cy="489.77" r="2.5"/><circle cx="285.65" cy="498.9" r="2.5"/><circle cx="291.9" cy="489.77" r="2.5"/><circle cx="298.15" cy="488.32" r="2.5"/><circle cx="304.4" cy="482.08" r="2.5"/><circle cx="310.65" cy="465.55" r="2.5"/><circle cx="316.9" cy="444.38" r="2.5"/><circle cx="323.15" cy="449.89" r="2.5"/><circle cx="329.4" cy="463.67" r="2.5"/><circle cx="335.65" cy="478.17" r="2.5"/><circle cx="341.9" cy="501.66" r="2.5"/><circle cx="348.15" cy="532.25" r="2.5"/><circle cx="354.4" cy="533.7" r="2.5"/><circle cx="360.65" cy="538.05" r="2.5"/><circle cx="366.9" cy="533.99" r="2.5"/><circle cx="373.15" cy="521.38" r="2.5"/><circle cx="379.4" cy="514.42" r="2.5"/><circle cx="385.65" cy="506.59" r="2.5"/><circle cx="391.9" cy="494.12" r="2.5"/><circle cx="398.15" cy="482.23" r="2.5"/><circle cx="404.4" cy="474.4" r="2.5"/><circle cx="410.65" cy="467.44" r="2.5"/><circle cx="416.9" cy="469.03" r="2.5"/><circle cx="423.15" cy="459.75" r="2.5"/><circle cx="429.4" cy="456.85" r="2.5"/><circle cx="435.65" cy="464.68" r="2.5"/><circle cx="441.9" cy="473.67" r="2.5"/><circle cx="448.15" cy="482.37" r="2.5"/><circle cx="454.4" cy="500.35" r="2.5"/><circle cx="460.65" cy="494.84" r="2.5"/><circle cx="466.9" cy="490.49" r="2.5"/><circle cx="473.15" cy="490.93" r="2.5"/><circle cx="479.4" cy="488.75" r="2.5"/><circle cx="485.65" cy="497.16" r="2.5"/><circle cx="491.9" cy="499.48" r="2.5"/><circle cx="498.15" cy="500.35" r="2.5"/><circle cx="504.4" cy="498.03" r="2.5"/><circle cx="510.65" cy="494.12" r="2.5"/><circle cx="516.9" cy="507.46" r="2.5"/></g>
<polyline points="35.65,532.25 41.9,517.03 48.15,505.43 54.4,486.43 60.65,470.77 66.9,458.01 73.15,436.41 79.4,452.07 85.65,454.39 91.9,478.6 98.15,506.15 104.4,521.52 110.65,526.16 116.9,529.06 123.15,526.74 129.4,517.61 135.65,508.62 141.9,491.65 148.15,491.36 154.4,480.05 160.65,466.28 166.9,456.42 173.15,456.56 179.4,463.09 185.65,481.94 191.9,504.7 198.15,503.98 204.4,507.89 210.65,498.47 216.9,492.23 223.15,474.98 229.4,483.68 235.65,481.5 241.9,495.28 248.15,507.02 254.4,510.21 260.65,509.34 266.9,505.43 273.15,503.98 279.4,497.74 285.65,497.74 291.9,496 298.15,486.72 304.4,480.49 310.65,460.91 316.9,441.19 323.15,449.17 329.4,470.34 335.65,482.08 341.9,505.43 348.15,534.57 354.4,535.88 360.65,542.25 366.9,536.02 373.15,523.12 379.4,512.82 385.65,507.46 391.9,496.73 398.15,482.95 404.4,465.84 410.65,463.52 416.9,471.35 423.15,456.42 429.4,460.33 435.65,463.52 441.9,477.59 448.15,484.69 454.4,501.8 460.65,492.52 466.9,484.26 473.15,491.65 479.4,486.72 485.65,494.55 491.9,494.84 498.15,498.32 504.4,499.19 510.65,497.6 516.9,512.1" fill="none" stroke="#2fb417" stroke-width="0.95"/>
<g fill="#2fb417"><circle cx="35.65" cy="532.25" r="2.5"/><circle cx="41.9" cy="517.03" r="2.5"/><circle cx="48.15" cy="505.43" r="2.5"/><circle cx="54.4" cy="486.43" r="2.5"/><circle cx="60.65" cy="470.77" r="2.5"/><circle cx="66.9" cy="458.01" r="2.5"/><circle cx="73.15" cy="436.41" r="2.5"/><circle cx="79.4" cy="452.07" r="2.5"/><circle cx="85.65" cy="454.39" r="2.5"/><circle cx="91.9" cy="478.6" r="2.5"/><circle cx="98.15" cy="506.15" r="2.5"/><circle cx="104.4" cy="521.52" r="2.5"/><circle cx="110.65" cy="526.16" r="2.5"/><circle cx="116.9" cy="529.06" r="2.5"/><circle cx="123.15" cy="526.74" r="2.5"/><circle cx="129.4" cy="517.61" r="2.5"/><circle cx="135.65" cy="508.62" r="2.5"/><circle cx="141.9" cy="491.65" r="2.5"/><circle cx="148.15" cy="491.36" r="2.5"/><circle cx="154.4" cy="480.05" r="2.5"/><circle cx="160.65" cy="466.28" r="2.5"/><circle cx="166.9" cy="456.42" r="2.5"/><circle cx="173.15" cy="456.56" r="2.5"/><circle cx="179.4" cy="463.09" r="2.5"/><circle cx="185.65" cy="481.94" r="2.5"/><circle cx="191.9" cy="504.7" r="2.5"/><circle cx="198.15" cy="503.98" r="2.5"/><circle cx="204.4" cy="507.89" r="2.5"/><circle cx="210.65" cy="498.47" r="2.5"/><circle cx="216.9" cy="492.23" r="2.5"/><circle cx="223.15" cy="474.98" r="2.5"/><circle cx="229.4" cy="483.68" r="2.5"/><circle cx="235.65" cy="481.5" r="2.5"/><circle cx="241.9" cy="495.28" r="2.5"/><circle cx="248.15" cy="507.02" r="2.5"/><circle cx="254.4" cy="510.21" r="2.5"/><circle cx="260.65" cy="509.34" r="2.5"/><circle cx="266.9" cy="505.43" r="2.5"/><circle cx="273.15" cy="503.98" r="2.5"/><circle cx="279.4" cy="497.74" r="2.5"/><circle cx="285.65" cy="497.74" r="2.5"/><circle cx="291.9" cy="496" r="2.5"/><circle cx="298.15" cy="486.72" r="2.5"/><circle cx="304.4" cy="480.49" r="2.5"/><circle cx="310.65" cy="460.91" r="2.5"/><circle cx="316.9" cy="441.19" r="2.5"/><circle cx="323.15" cy="449.17" r="2.5"/><circle cx="329.4" cy="470.34" r="2.5"/><circle cx="335.65" cy="482.08" r="2.5"/><circle cx="341.9" cy="505.43" r="2.5"/><circle cx="348.15" cy="534.57" r="2.5"/><circle cx="354.4" cy="535.88" r="2.5"/><circle cx="360.65" cy="542.25" r="2.5"/><circle cx="366.9" cy="536.02" r="2.5"/><circle cx="373.15" cy="523.12" r="2.5"/><circle cx="379.4" cy="512.82" r="2.5"/><circle cx="385.65" cy="507.46" r="2.5"/><circle cx="391.9" cy="496.73" r="2.5"/><circle cx="398.15" cy="482.95" r="2.5"/><circle cx="404.4" cy="465.84" r="2.5"/><circle cx="410.65" cy="463.52" r="2.5"/><circle cx="416.9" cy="471.35" r="2.5"/><circle cx="423.15" cy="456.42" r="2.5"/><circle cx="429.4" cy="460.33" r="2.5"/><circle cx="435.65" cy="463.52" r="2.5"/><circle cx="441.9" cy="477.59" r="2.5"/><circle cx="448.15" cy="484.69" r="2.5"/><circle cx="454.4" cy="501.8" r="2.5"/><circle cx="460.65" cy="492.52" r="2.5"/><circle cx="466.9" cy="484.26" r="2.5"/><circle cx="473.15" cy="491.65" r="2.5"/><circle cx="479.4" cy="486.72" r="2.5"/><circle cx="485.65" cy="494.55" r="2.5"/><circle cx="491.9" cy="494.84" r="2.5"/><circle cx="498.15" cy="498.32" r="2.5"/><circle cx="504.4" cy="499.19" r="2.5"/><circle cx="510.65" cy="497.6" r="2.5"/><circle cx="516.9" cy="512.1" r="2.5"/></g>
<polyline points="35.65,525.44 41.9,515.43 48.15,509.92 54.4,484.98 60.65,468.45 66.9,455.55 73.15,439.16 79.4,458.3 85.65,462.94 91.9,484.11 98.15,515.43 104.4,525.14 110.65,527.03 116.9,523.84 123.15,521.81 129.4,512.38 135.65,500.35 141.9,486.14 148.15,487.74 154.4,477.59 160.65,467.87 166.9,458.74 173.15,460.77 179.4,472.51 185.65,487.88 191.9,507.02 198.15,507.89 204.4,514.12 210.65,503.98 216.9,498.47 223.15,475.99 229.4,481.94 235.65,482.81 241.9,494.26 248.15,503.69 254.4,507.46 260.65,508.62 266.9,504.41 273.15,502.38 279.4,495.86 285.65,495.28 291.9,496.15 298.15,476.86 304.4,473.38 310.65,457 316.9,434.23 323.15,447.57 329.4,469.03 335.65,484.69 341.9,507.17 348.15,527.61 354.4,530.8 360.65,535.3 366.9,531.67 373.15,519.2 379.4,516.01 385.65,509.34 391.9,501.08 398.15,485.85 404.4,468.89 410.65,472.8 416.9,477.15 423.15,463.52 429.4,459.46 435.65,465.84 441.9,482.23 448.15,490.2 454.4,504.56 460.65,495.57 466.9,490.93 473.15,499.48 479.4,489.33 485.65,494.12 491.9,490.49 498.15,499.48 504.4,496.15 510.65,487.74 516.9,501.95" fill="none" stroke="#ff0606" stroke-width="0.95"/>
<g fill="#ff0606"><circle cx="35.65" cy="525.44" r="2.5"/><circle cx="41.9" cy="515.43" r="2.5"/><circle cx="48.15" cy="509.92" r="2.5"/><circle cx="54.4" cy="484.98" r="2.5"/><circle cx="60.65" cy="468.45" r="2.5"/><circle cx="66.9" cy="455.55" r="2.5"/><circle cx="73.15" cy="439.16" r="2.5"/><circle cx="79.4" cy="458.3" r="2.5"/><circle cx="85.65" cy="462.94" r="2.5"/><circle cx="91.9" cy="484.11" r="2.5"/><circle cx="98.15" cy="515.43" r="2.5"/><circle cx="104.4" cy="525.14" r="2.5"/><circle cx="110.65" cy="527.03" r="2.5"/><circle cx="116.9" cy="523.84" r="2.5"/><circle cx="123.15" cy="521.81" r="2.5"/><circle cx="129.4" cy="512.38" r="2.5"/><circle cx="135.65" cy="500.35" r="2.5"/><circle cx="141.9" cy="486.14" r="2.5"/><circle cx="148.15" cy="487.74" r="2.5"/><circle cx="154.4" cy="477.59" r="2.5"/><circle cx="160.65" cy="467.87" r="2.5"/><circle cx="166.9" cy="458.74" r="2.5"/><circle cx="173.15" cy="460.77" r="2.5"/><circle cx="179.4" cy="472.51" r="2.5"/><circle cx="185.65" cy="487.88" r="2.5"/><circle cx="191.9" cy="507.02" r="2.5"/><circle cx="198.15" cy="507.89" r="2.5"/><circle cx="204.4" cy="514.12" r="2.5"/><circle cx="210.65" cy="503.98" r="2.5"/><circle cx="216.9" cy="498.47" r="2.5"/><circle cx="223.15" cy="475.99" r="2.5"/><circle cx="229.4" cy="481.94" r="2.5"/><circle cx="235.65" cy="482.81" r="2.5"/><circle cx="241.9" cy="494.26" r="2.5"/><circle cx="248.15" cy="503.69" r="2.5"/><circle cx="254.4" cy="507.46" r="2.5"/><circle cx="260.65" cy="508.62" r="2.5"/><circle cx="266.9" cy="504.41" r="2.5"/><circle cx="273.15" cy="502.38" r="2.5"/><circle cx="279.4" cy="495.86" r="2.5"/><circle cx="285.65" cy="495.28" r="2.5"/><circle cx="291.9" cy="496.15" r="2.5"/><circle cx="298.15" cy="476.86" r="2.5"/><circle cx="304.4" cy="473.38" r="2.5"/><circle cx="310.65" cy="457" r="2.5"/><circle cx="316.9" cy="434.23" r="2.5"/><circle cx="323.15" cy="447.57" r="2.5"/><circle cx="329.4" cy="469.03" r="2.5"/><circle cx="335.65" cy="484.69" r="2.5"/><circle cx="341.9" cy="507.17" r="2.5"/><circle cx="348.15" cy="527.61" r="2.5"/><circle cx="354.4" cy="530.8" r="2.5"/><circle cx="360.65" cy="535.3" r="2.5"/><circle cx="366.9" cy="531.67" r="2.5"/><circle cx="373.15" cy="519.2" r="2.5"/><circle cx="379.4" cy="516.01" r="2.5"/><circle cx="385.65" cy="509.34" r="2.5"/><circle cx="391.9" cy="501.08" r="2.5"/><circle cx="398.15" cy="485.85" r="2.5"/><circle cx="404.4" cy="468.89" r="2.5"/><circle cx="410.65" cy="472.8" r="2.5"/><circle cx="416.9" cy="477.15" r="2.5"/><circle cx="423.15" cy="463.52" r="2.5"/><circle cx="429.4" cy="459.46" r="2.5"/><circle cx="435.65" cy="465.84" r="2.5"/><circle cx="441.9" cy="482.23" r="2.5"/><circle cx="448.15" cy="490.2" r="2.5"/><circle cx="454.4" cy="504.56" r="2.5"/><circle cx="460.65" cy="495.57" r="2.5"/><circle cx="466.9" cy="490.93" r="2.5"/><circle cx="473.15" cy="499.48" r="2.5"/><circle cx="479.4" cy="489.33" r="2.5"/><circle cx="485.65" cy="494.12" r="2.5"/><circle cx="491.9" cy="490.49" r="2.5"/><circle cx="498.15" cy="499.48" r="2.5"/><circle cx="504.4" cy="496.15" r="2.5"/><circle cx="510.65" cy="487.74" r="2.5"/><circle cx="516.9" cy="501.95" r="2.5"/></g>
</g>
<g clip-path="url(#c374l)">
<g fill="#2a48ff"><circle cx="35.65" cy="690.8" r="2.5"/><circle cx="41.9" cy="656.02" r="2.5"/><circle cx="48.15" cy="654.45" r="2.5"/><circle cx="54.4" cy="647.83" r="2.5"/><circle cx="60.65" cy="643.34" r="2.5"/><circle cx="66.9" cy="640.87" r="2.5"/><circle cx="73.15" cy="628.08" r="2.5"/><circle cx="79.4" cy="641.99" r="2.5"/><circle cx="85.65" cy="641.09" r="2.5"/><circle cx="91.9" cy="638.51" r="2.5"/><circle cx="98.15" cy="646.7" r="2.5"/><circle cx="104.4" cy="639.86" r="2.5"/><circle cx="110.65" cy="641.77" r="2.5"/><circle cx="116.9" cy="644.24" r="2.5"/><circle cx="123.15" cy="648.05" r="2.5"/><circle cx="129.4" cy="651.42" r="2.5"/><circle cx="135.65" cy="650.52" r="2.5"/><circle cx="141.9" cy="647.04" r="2.5"/><circle cx="148.15" cy="655.01" r="2.5"/><circle cx="154.4" cy="650.29" r="2.5"/><circle cx="160.65" cy="641.65" r="2.5"/><circle cx="166.9" cy="644.12" r="2.5"/><circle cx="173.15" cy="643.9" r="2.5"/><circle cx="179.4" cy="640.53" r="2.5"/><circle cx="185.65" cy="637.5" r="2.5"/><circle cx="191.9" cy="644.12" r="2.5"/><circle cx="198.15" cy="640.42" r="2.5"/><circle cx="204.4" cy="646.25" r="2.5"/><circle cx="210.65" cy="645.36" r="2.5"/><circle cx="216.9" cy="647.83" r="2.5"/><circle cx="223.15" cy="645.92" r="2.5"/><circle cx="229.4" cy="656.35" r="2.5"/><circle cx="235.65" cy="654.67" r="2.5"/><circle cx="241.9" cy="656.91" r="2.5"/><circle cx="248.15" cy="657.47" r="2.5"/><circle cx="254.4" cy="655.12" r="2.5"/><circle cx="260.65" cy="651.42" r="2.5"/><circle cx="266.9" cy="653.88" r="2.5"/><circle cx="273.15" cy="658.93" r="2.5"/><circle cx="279.4" cy="651.42" r="2.5"/><circle cx="285.65" cy="665.1" r="2.5"/><circle cx="291.9" cy="662.52" r="2.5"/><circle cx="298.15" cy="666.9" r="2.5"/><circle cx="304.4" cy="666.9" r="2.5"/><circle cx="310.65" cy="656.02" r="2.5"/><circle cx="316.9" cy="643.56" r="2.5"/><circle cx="323.15" cy="652.31" r="2.5"/><circle cx="329.4" cy="663.31" r="2.5"/><circle cx="335.65" cy="658.48" r="2.5"/><circle cx="341.9" cy="656.91" r="2.5"/><circle cx="348.15" cy="665.67" r="2.5"/><circle cx="354.4" cy="658.48" r="2.5"/><circle cx="360.65" cy="662.97" r="2.5"/><circle cx="366.9" cy="664.77" r="2.5"/><circle cx="373.15" cy="659.49" r="2.5"/><circle cx="379.4" cy="660.73" r="2.5"/><circle cx="385.65" cy="661.74" r="2.5"/><circle cx="391.9" cy="658.82" r="2.5"/><circle cx="398.15" cy="657.47" r="2.5"/><circle cx="404.4" cy="656.24" r="2.5"/><circle cx="410.65" cy="653.32" r="2.5"/><circle cx="416.9" cy="655.79" r="2.5"/><circle cx="423.15" cy="644.01" r="2.5"/><circle cx="429.4" cy="639.63" r="2.5"/><circle cx="435.65" cy="648.16" r="2.5"/><circle cx="441.9" cy="656.35" r="2.5"/><circle cx="448.15" cy="655.79" r="2.5"/><circle cx="454.4" cy="659.94" r="2.5"/><circle cx="460.65" cy="649.62" r="2.5"/><circle cx="466.9" cy="648.72" r="2.5"/><circle cx="473.15" cy="654.45" r="2.5"/><circle cx="479.4" cy="650.97" r="2.5"/><circle cx="485.65" cy="650.18" r="2.5"/><circle cx="491.9" cy="651.98" r="2.5"/><circle cx="498.15" cy="659.38" r="2.5"/><circle cx="504.4" cy="664.88" r="2.5"/><circle cx="510.65" cy="663.98" r="2.5"/><circle cx="516.9" cy="673.86" r="2.5"/></g>
<g fill="#2fb417"><circle cx="35.65" cy="663.87" r="2.5"/><circle cx="41.9" cy="657.14" r="2.5"/><circle cx="48.15" cy="657.59" r="2.5"/><circle cx="54.4" cy="649.62" r="2.5"/><circle cx="60.65" cy="643.11" r="2.5"/><circle cx="66.9" cy="640.08" r="2.5"/><circle cx="73.15" cy="629.87" r="2.5"/><circle cx="79.4" cy="647.26" r="2.5"/><circle cx="85.65" cy="644.12" r="2.5"/><circle cx="91.9" cy="648.39" r="2.5"/><circle cx="98.15" cy="654.56" r="2.5"/><circle cx="104.4" cy="649.62" r="2.5"/><circle cx="110.65" cy="645.36" r="2.5"/><circle cx="116.9" cy="645.13" r="2.5"/><circle cx="123.15" cy="646.59" r="2.5"/><circle cx="129.4" cy="648.39" r="2.5"/><circle cx="135.65" cy="649.62" r="2.5"/><circle cx="141.9" cy="643.56" r="2.5"/><circle cx="148.15" cy="650.52" r="2.5"/><circle cx="154.4" cy="649.73" r="2.5"/><circle cx="160.65" cy="644.46" r="2.5"/><circle cx="166.9" cy="641.54" r="2.5"/><circle cx="173.15" cy="641.21" r="2.5"/><circle cx="179.4" cy="637.39" r="2.5"/><circle cx="185.65" cy="638.06" r="2.5"/><circle cx="191.9" cy="644.68" r="2.5"/><circle cx="198.15" cy="639.3" r="2.5"/><circle cx="204.4" cy="644.8" r="2.5"/><circle cx="210.65" cy="642.33" r="2.5"/><circle cx="216.9" cy="644.24" r="2.5"/><circle cx="223.15" cy="638.06" r="2.5"/><circle cx="229.4" cy="651.75" r="2.5"/><circle cx="235.65" cy="654.11" r="2.5"/><circle cx="241.9" cy="657.47" r="2.5"/><circle cx="248.15" cy="656.8" r="2.5"/><circle cx="254.4" cy="651.42" r="2.5"/><circle cx="260.65" cy="650.52" r="2.5"/><circle cx="266.9" cy="654.45" r="2.5"/><circle cx="273.15" cy="657.47" r="2.5"/><circle cx="279.4" cy="657.59" r="2.5"/><circle cx="285.65" cy="664.21" r="2.5"/><circle cx="291.9" cy="667.35" r="2.5"/><circle cx="298.15" cy="665.67" r="2.5"/><circle cx="304.4" cy="665.67" r="2.5"/><circle cx="310.65" cy="652.43" r="2.5"/><circle cx="316.9" cy="641.09" r="2.5"/><circle cx="323.15" cy="651.75" r="2.5"/><circle cx="329.4" cy="668.47" r="2.5"/><circle cx="335.65" cy="661.51" r="2.5"/><circle cx="341.9" cy="659.83" r="2.5"/><circle cx="348.15" cy="667.46" r="2.5"/><circle cx="354.4" cy="660.17" r="2.5"/><circle cx="360.65" cy="666.23" r="2.5"/><circle cx="366.9" cy="666.34" r="2.5"/><circle cx="373.15" cy="660.84" r="2.5"/><circle cx="379.4" cy="659.49" r="2.5"/><circle cx="385.65" cy="662.41" r="2.5"/><circle cx="391.9" cy="660.84" r="2.5"/><circle cx="398.15" cy="658.04" r="2.5"/><circle cx="404.4" cy="649.62" r="2.5"/><circle cx="410.65" cy="650.29" r="2.5"/><circle cx="416.9" cy="657.59" r="2.5"/><circle cx="423.15" cy="641.43" r="2.5"/><circle cx="429.4" cy="642.33" r="2.5"/><circle cx="435.65" cy="647.26" r="2.5"/><circle cx="441.9" cy="659.38" r="2.5"/><circle cx="448.15" cy="657.59" r="2.5"/><circle cx="454.4" cy="661.07" r="2.5"/><circle cx="460.65" cy="647.83" r="2.5"/><circle cx="466.9" cy="643.9" r="2.5"/><circle cx="473.15" cy="655.01" r="2.5"/><circle cx="479.4" cy="649.4" r="2.5"/><circle cx="485.65" cy="648.16" r="2.5"/><circle cx="491.9" cy="648.39" r="2.5"/><circle cx="498.15" cy="657.81" r="2.5"/><circle cx="504.4" cy="665.78" r="2.5"/><circle cx="510.65" cy="666.68" r="2.5"/><circle cx="516.9" cy="677.45" r="2.5"/></g>
<g fill="#ff0606"><circle cx="35.65" cy="658.6" r="2.5"/><circle cx="41.9" cy="655.9" r="2.5"/><circle cx="48.15" cy="661.07" r="2.5"/><circle cx="54.4" cy="648.5" r="2.5"/><circle cx="60.65" cy="641.32" r="2.5"/><circle cx="66.9" cy="638.18" r="2.5"/><circle cx="73.15" cy="632.01" r="2.5"/><circle cx="79.4" cy="652.09" r="2.5"/><circle cx="85.65" cy="650.74" r="2.5"/><circle cx="91.9" cy="652.65" r="2.5"/><circle cx="98.15" cy="661.74" r="2.5"/><circle cx="104.4" cy="652.43" r="2.5"/><circle cx="110.65" cy="646.03" r="2.5"/><circle cx="116.9" cy="641.09" r="2.5"/><circle cx="123.15" cy="642.78" r="2.5"/><circle cx="129.4" cy="644.35" r="2.5"/><circle cx="135.65" cy="643.23" r="2.5"/><circle cx="141.9" cy="639.3" r="2.5"/><circle cx="148.15" cy="647.71" r="2.5"/><circle cx="154.4" cy="647.83" r="2.5"/><circle cx="160.65" cy="645.69" r="2.5"/><circle cx="166.9" cy="643.34" r="2.5"/><circle cx="173.15" cy="644.46" r="2.5"/><circle cx="179.4" cy="644.68" r="2.5"/><circle cx="185.65" cy="642.66" r="2.5"/><circle cx="191.9" cy="646.48" r="2.5"/><circle cx="198.15" cy="642.33" r="2.5"/><circle cx="204.4" cy="649.62" r="2.5"/><circle cx="210.65" cy="646.59" r="2.5"/><circle cx="216.9" cy="649.06" r="2.5"/><circle cx="223.15" cy="638.85" r="2.5"/><circle cx="229.4" cy="650.41" r="2.5"/><circle cx="235.65" cy="655.12" r="2.5"/><circle cx="241.9" cy="656.69" r="2.5"/><circle cx="248.15" cy="654.22" r="2.5"/><circle cx="254.4" cy="649.28" r="2.5"/><circle cx="260.65" cy="649.96" r="2.5"/><circle cx="266.9" cy="653.66" r="2.5"/><circle cx="273.15" cy="656.24" r="2.5"/><circle cx="279.4" cy="656.13" r="2.5"/><circle cx="285.65" cy="662.3" r="2.5"/><circle cx="291.9" cy="667.46" r="2.5"/><circle cx="298.15" cy="658.04" r="2.5"/><circle cx="304.4" cy="660.17" r="2.5"/><circle cx="310.65" cy="649.4" r="2.5"/><circle cx="316.9" cy="635.71" r="2.5"/><circle cx="323.15" cy="650.52" r="2.5"/><circle cx="329.4" cy="667.46" r="2.5"/><circle cx="335.65" cy="663.53" r="2.5"/><circle cx="341.9" cy="661.18" r="2.5"/><circle cx="348.15" cy="662.07" r="2.5"/><circle cx="354.4" cy="656.24" r="2.5"/><circle cx="360.65" cy="660.84" r="2.5"/><circle cx="366.9" cy="662.97" r="2.5"/><circle cx="373.15" cy="657.81" r="2.5"/><circle cx="379.4" cy="661.96" r="2.5"/><circle cx="385.65" cy="663.87" r="2.5"/><circle cx="391.9" cy="664.21" r="2.5"/><circle cx="398.15" cy="660.28" r="2.5"/><circle cx="404.4" cy="651.98" r="2.5"/><circle cx="410.65" cy="657.47" r="2.5"/><circle cx="416.9" cy="662.07" r="2.5"/><circle cx="423.15" cy="646.93" r="2.5"/><circle cx="429.4" cy="641.65" r="2.5"/><circle cx="435.65" cy="649.06" r="2.5"/><circle cx="441.9" cy="662.97" r="2.5"/><circle cx="448.15" cy="661.85" r="2.5"/><circle cx="454.4" cy="663.2" r="2.5"/><circle cx="460.65" cy="650.18" r="2.5"/><circle cx="466.9" cy="649.06" r="2.5"/><circle cx="473.15" cy="661.07" r="2.5"/><circle cx="479.4" cy="651.42" r="2.5"/><circle cx="485.65" cy="647.83" r="2.5"/><circle cx="491.9" cy="645.02" r="2.5"/><circle cx="498.15" cy="658.71" r="2.5"/><circle cx="504.4" cy="663.42" r="2.5"/><circle cx="510.65" cy="659.05" r="2.5"/><circle cx="516.9" cy="669.59" r="2.5"/></g>
</g>
<rect x="35.9" y="375.75" width="481.5" height="321.8" fill="none" stroke="#000" stroke-width="1.5"/>
<line x1="35.9" y1="607.75" x2="517.4" y2="607.75" stroke="#000" stroke-width="1.5"/>
<line x1="35.9" y1="593.15" x2="40.3" y2="593.15" stroke="#000" stroke-width="1.3"/>
<line x1="517.4" y1="593.15" x2="513" y2="593.15" stroke="#000" stroke-width="1.3"/>
<line x1="35.9" y1="578.65" x2="40.3" y2="578.65" stroke="#000" stroke-width="1.3"/>
<line x1="517.4" y1="578.65" x2="513" y2="578.65" stroke="#000" stroke-width="1.3"/>
<line x1="35.9" y1="564.15" x2="45.5" y2="564.15" stroke="#000" stroke-width="1.3"/>
<line x1="517.4" y1="564.15" x2="507.8" y2="564.15" stroke="#000" stroke-width="1.3"/>
<line x1="35.9" y1="549.65" x2="40.3" y2="549.65" stroke="#000" stroke-width="1.3"/>
<line x1="517.4" y1="549.65" x2="513" y2="549.65" stroke="#000" stroke-width="1.3"/>
<line x1="35.9" y1="535.15" x2="40.3" y2="535.15" stroke="#000" stroke-width="1.3"/>
<line x1="517.4" y1="535.15" x2="513" y2="535.15" stroke="#000" stroke-width="1.3"/>
<line x1="35.9" y1="520.65" x2="40.3" y2="520.65" stroke="#000" stroke-width="1.3"/>
<line x1="517.4" y1="520.65" x2="513" y2="520.65" stroke="#000" stroke-width="1.3"/>
<line x1="35.9" y1="506.15" x2="40.3" y2="506.15" stroke="#000" stroke-width="1.3"/>
<line x1="517.4" y1="506.15" x2="513" y2="506.15" stroke="#000" stroke-width="1.3"/>
<line x1="35.9" y1="491.65" x2="45.5" y2="491.65" stroke="#000" stroke-width="1.3"/>
<line x1="517.4" y1="491.65" x2="507.8" y2="491.65" stroke="#000" stroke-width="1.3"/>
<line x1="35.9" y1="477.15" x2="40.3" y2="477.15" stroke="#000" stroke-width="1.3"/>
<line x1="517.4" y1="477.15" x2="513" y2="477.15" stroke="#000" stroke-width="1.3"/>
<line x1="35.9" y1="462.65" x2="40.3" y2="462.65" stroke="#000" stroke-width="1.3"/>
<line x1="517.4" y1="462.65" x2="513" y2="462.65" stroke="#000" stroke-width="1.3"/>
<line x1="35.9" y1="448.15" x2="40.3" y2="448.15" stroke="#000" stroke-width="1.3"/>
<line x1="517.4" y1="448.15" x2="513" y2="448.15" stroke="#000" stroke-width="1.3"/>
<line x1="35.9" y1="433.65" x2="40.3" y2="433.65" stroke="#000" stroke-width="1.3"/>
<line x1="517.4" y1="433.65" x2="513" y2="433.65" stroke="#000" stroke-width="1.3"/>
<line x1="35.9" y1="419.15" x2="45.5" y2="419.15" stroke="#000" stroke-width="1.3"/>
<line x1="517.4" y1="419.15" x2="507.8" y2="419.15" stroke="#000" stroke-width="1.3"/>
<line x1="35.9" y1="404.65" x2="40.3" y2="404.65" stroke="#000" stroke-width="1.3"/>
<line x1="517.4" y1="404.65" x2="513" y2="404.65" stroke="#000" stroke-width="1.3"/>
<line x1="35.9" y1="390.15" x2="40.3" y2="390.15" stroke="#000" stroke-width="1.3"/>
<line x1="517.4" y1="390.15" x2="513" y2="390.15" stroke="#000" stroke-width="1.3"/>
<text class="b" transform="translate(33 423.45) scale(0.855 1)" font-size="12.4" text-anchor="end">5</text>
<text class="b" transform="translate(33 495.95) scale(0.855 1)" font-size="12.4" text-anchor="end">0</text>
<text class="b" transform="translate(33 568.45) scale(0.855 1)" font-size="12.4" text-anchor="end">-5</text>
<line x1="35.9" y1="691.92" x2="40.3" y2="691.92" stroke="#000" stroke-width="1.3"/>
<line x1="517.4" y1="691.92" x2="513" y2="691.92" stroke="#000" stroke-width="1.3"/>
<line x1="35.9" y1="686.31" x2="40.3" y2="686.31" stroke="#000" stroke-width="1.3"/>
<line x1="517.4" y1="686.31" x2="513" y2="686.31" stroke="#000" stroke-width="1.3"/>
<line x1="35.9" y1="680.7" x2="40.3" y2="680.7" stroke="#000" stroke-width="1.3"/>
<line x1="517.4" y1="680.7" x2="513" y2="680.7" stroke="#000" stroke-width="1.3"/>
<line x1="35.9" y1="675.09" x2="45.5" y2="675.09" stroke="#000" stroke-width="1.3"/>
<line x1="517.4" y1="675.09" x2="507.8" y2="675.09" stroke="#000" stroke-width="1.3"/>
<line x1="35.9" y1="669.48" x2="40.3" y2="669.48" stroke="#000" stroke-width="1.3"/>
<line x1="517.4" y1="669.48" x2="513" y2="669.48" stroke="#000" stroke-width="1.3"/>
<line x1="35.9" y1="663.87" x2="40.3" y2="663.87" stroke="#000" stroke-width="1.3"/>
<line x1="517.4" y1="663.87" x2="513" y2="663.87" stroke="#000" stroke-width="1.3"/>
<line x1="35.9" y1="658.26" x2="40.3" y2="658.26" stroke="#000" stroke-width="1.3"/>
<line x1="517.4" y1="658.26" x2="513" y2="658.26" stroke="#000" stroke-width="1.3"/>
<line x1="35.9" y1="652.65" x2="45.5" y2="652.65" stroke="#000" stroke-width="1.3"/>
<line x1="517.4" y1="652.65" x2="507.8" y2="652.65" stroke="#000" stroke-width="1.3"/>
<line x1="35.9" y1="647.04" x2="40.3" y2="647.04" stroke="#000" stroke-width="1.3"/>
<line x1="517.4" y1="647.04" x2="513" y2="647.04" stroke="#000" stroke-width="1.3"/>
<line x1="35.9" y1="641.43" x2="40.3" y2="641.43" stroke="#000" stroke-width="1.3"/>
<line x1="517.4" y1="641.43" x2="513" y2="641.43" stroke="#000" stroke-width="1.3"/>
<line x1="35.9" y1="635.82" x2="40.3" y2="635.82" stroke="#000" stroke-width="1.3"/>
<line x1="517.4" y1="635.82" x2="513" y2="635.82" stroke="#000" stroke-width="1.3"/>
<line x1="35.9" y1="630.21" x2="45.5" y2="630.21" stroke="#000" stroke-width="1.3"/>
<line x1="517.4" y1="630.21" x2="507.8" y2="630.21" stroke="#000" stroke-width="1.3"/>
<line x1="35.9" y1="624.6" x2="40.3" y2="624.6" stroke="#000" stroke-width="1.3"/>
<line x1="517.4" y1="624.6" x2="513" y2="624.6" stroke="#000" stroke-width="1.3"/>
<line x1="35.9" y1="618.99" x2="40.3" y2="618.99" stroke="#000" stroke-width="1.3"/>
<line x1="517.4" y1="618.99" x2="513" y2="618.99" stroke="#000" stroke-width="1.3"/>
<line x1="35.9" y1="613.38" x2="40.3" y2="613.38" stroke="#000" stroke-width="1.3"/>
<line x1="517.4" y1="613.38" x2="513" y2="613.38" stroke="#000" stroke-width="1.3"/>
<text class="b" transform="translate(33 616.17) scale(0.855 1)" font-size="12.4" text-anchor="end">4</text>
<text class="b" transform="translate(33 634.51) scale(0.855 1)" font-size="12.4" text-anchor="end">2</text>
<text class="b" transform="translate(33 656.95) scale(0.855 1)" font-size="12.4" text-anchor="end">0</text>
<text class="b" transform="translate(33 679.39) scale(0.855 1)" font-size="12.4" text-anchor="end">-2</text>
<text class="b" transform="translate(33 696.93) scale(0.855 1)" font-size="12.4" text-anchor="end">-4</text>
<line x1="49.99" y1="375.75" x2="49.99" y2="378.15" stroke="#000" stroke-width="1.2"/>
<line x1="49.99" y1="607.75" x2="49.99" y2="605.35" stroke="#000" stroke-width="1.2"/>
<line x1="49.99" y1="607.75" x2="49.99" y2="608.65" stroke="#000" stroke-width="1.2"/>
<line x1="49.99" y1="697.55" x2="49.99" y2="696.65" stroke="#000" stroke-width="1.2"/>
<line x1="72.5" y1="375.75" x2="72.5" y2="378.15" stroke="#000" stroke-width="1.2"/>
<line x1="72.5" y1="607.75" x2="72.5" y2="605.35" stroke="#000" stroke-width="1.2"/>
<line x1="72.5" y1="607.75" x2="72.5" y2="608.65" stroke="#000" stroke-width="1.2"/>
<line x1="72.5" y1="697.55" x2="72.5" y2="696.65" stroke="#000" stroke-width="1.2"/>
<line x1="95" y1="375.75" x2="95" y2="380.35" stroke="#000" stroke-width="1.2"/>
<line x1="95" y1="607.75" x2="95" y2="603.15" stroke="#000" stroke-width="1.2"/>
<line x1="95" y1="607.75" x2="95" y2="609.55" stroke="#000" stroke-width="1.2"/>
<line x1="95" y1="697.55" x2="95" y2="695.75" stroke="#000" stroke-width="1.2"/>
<line x1="117.5" y1="375.75" x2="117.5" y2="378.15" stroke="#000" stroke-width="1.2"/>
<line x1="117.5" y1="607.75" x2="117.5" y2="605.35" stroke="#000" stroke-width="1.2"/>
<line x1="117.5" y1="607.75" x2="117.5" y2="608.65" stroke="#000" stroke-width="1.2"/>
<line x1="117.5" y1="697.55" x2="117.5" y2="696.65" stroke="#000" stroke-width="1.2"/>
<line x1="140.01" y1="375.75" x2="140.01" y2="378.15" stroke="#000" stroke-width="1.2"/>
<line x1="140.01" y1="607.75" x2="140.01" y2="605.35" stroke="#000" stroke-width="1.2"/>
<line x1="140.01" y1="607.75" x2="140.01" y2="608.65" stroke="#000" stroke-width="1.2"/>
<line x1="140.01" y1="697.55" x2="140.01" y2="696.65" stroke="#000" stroke-width="1.2"/>
<line x1="162.51" y1="375.75" x2="162.51" y2="378.15" stroke="#000" stroke-width="1.2"/>
<line x1="162.51" y1="607.75" x2="162.51" y2="605.35" stroke="#000" stroke-width="1.2"/>
<line x1="162.51" y1="607.75" x2="162.51" y2="608.65" stroke="#000" stroke-width="1.2"/>
<line x1="162.51" y1="697.55" x2="162.51" y2="696.65" stroke="#000" stroke-width="1.2"/>
<line x1="185.02" y1="375.75" x2="185.02" y2="380.35" stroke="#000" stroke-width="1.2"/>
<line x1="185.02" y1="607.75" x2="185.02" y2="603.15" stroke="#000" stroke-width="1.2"/>
<line x1="185.02" y1="607.75" x2="185.02" y2="609.55" stroke="#000" stroke-width="1.2"/>
<line x1="185.02" y1="697.55" x2="185.02" y2="695.75" stroke="#000" stroke-width="1.2"/>
<line x1="207.52" y1="375.75" x2="207.52" y2="378.15" stroke="#000" stroke-width="1.2"/>
<line x1="207.52" y1="607.75" x2="207.52" y2="605.35" stroke="#000" stroke-width="1.2"/>
<line x1="207.52" y1="607.75" x2="207.52" y2="608.65" stroke="#000" stroke-width="1.2"/>
<line x1="207.52" y1="697.55" x2="207.52" y2="696.65" stroke="#000" stroke-width="1.2"/>
<line x1="230.03" y1="375.75" x2="230.03" y2="378.15" stroke="#000" stroke-width="1.2"/>
<line x1="230.03" y1="607.75" x2="230.03" y2="605.35" stroke="#000" stroke-width="1.2"/>
<line x1="230.03" y1="607.75" x2="230.03" y2="608.65" stroke="#000" stroke-width="1.2"/>
<line x1="230.03" y1="697.55" x2="230.03" y2="696.65" stroke="#000" stroke-width="1.2"/>
<line x1="252.53" y1="375.75" x2="252.53" y2="378.15" stroke="#000" stroke-width="1.2"/>
<line x1="252.53" y1="607.75" x2="252.53" y2="605.35" stroke="#000" stroke-width="1.2"/>
<line x1="252.53" y1="607.75" x2="252.53" y2="608.65" stroke="#000" stroke-width="1.2"/>
<line x1="252.53" y1="697.55" x2="252.53" y2="696.65" stroke="#000" stroke-width="1.2"/>
<line x1="275.04" y1="375.75" x2="275.04" y2="380.35" stroke="#000" stroke-width="1.2"/>
<line x1="275.04" y1="607.75" x2="275.04" y2="603.15" stroke="#000" stroke-width="1.2"/>
<line x1="275.04" y1="607.75" x2="275.04" y2="609.55" stroke="#000" stroke-width="1.2"/>
<line x1="275.04" y1="697.55" x2="275.04" y2="695.75" stroke="#000" stroke-width="1.2"/>
<line x1="297.54" y1="375.75" x2="297.54" y2="378.15" stroke="#000" stroke-width="1.2"/>
<line x1="297.54" y1="607.75" x2="297.54" y2="605.35" stroke="#000" stroke-width="1.2"/>
<line x1="297.54" y1="607.75" x2="297.54" y2="608.65" stroke="#000" stroke-width="1.2"/>
<line x1="297.54" y1="697.55" x2="297.54" y2="696.65" stroke="#000" stroke-width="1.2"/>
<line x1="320.05" y1="375.75" x2="320.05" y2="378.15" stroke="#000" stroke-width="1.2"/>
<line x1="320.05" y1="607.75" x2="320.05" y2="605.35" stroke="#000" stroke-width="1.2"/>
<line x1="320.05" y1="607.75" x2="320.05" y2="608.65" stroke="#000" stroke-width="1.2"/>
<line x1="320.05" y1="697.55" x2="320.05" y2="696.65" stroke="#000" stroke-width="1.2"/>
<line x1="342.55" y1="375.75" x2="342.55" y2="378.15" stroke="#000" stroke-width="1.2"/>
<line x1="342.55" y1="607.75" x2="342.55" y2="605.35" stroke="#000" stroke-width="1.2"/>
<line x1="342.55" y1="607.75" x2="342.55" y2="608.65" stroke="#000" stroke-width="1.2"/>
<line x1="342.55" y1="697.55" x2="342.55" y2="696.65" stroke="#000" stroke-width="1.2"/>
<line x1="365.06" y1="375.75" x2="365.06" y2="380.35" stroke="#000" stroke-width="1.2"/>
<line x1="365.06" y1="607.75" x2="365.06" y2="603.15" stroke="#000" stroke-width="1.2"/>
<line x1="365.06" y1="607.75" x2="365.06" y2="609.55" stroke="#000" stroke-width="1.2"/>
<line x1="365.06" y1="697.55" x2="365.06" y2="695.75" stroke="#000" stroke-width="1.2"/>
<line x1="387.56" y1="375.75" x2="387.56" y2="378.15" stroke="#000" stroke-width="1.2"/>
<line x1="387.56" y1="607.75" x2="387.56" y2="605.35" stroke="#000" stroke-width="1.2"/>
<line x1="387.56" y1="607.75" x2="387.56" y2="608.65" stroke="#000" stroke-width="1.2"/>
<line x1="387.56" y1="697.55" x2="387.56" y2="696.65" stroke="#000" stroke-width="1.2"/>
<line x1="410.07" y1="375.75" x2="410.07" y2="378.15" stroke="#000" stroke-width="1.2"/>
<line x1="410.07" y1="607.75" x2="410.07" y2="605.35" stroke="#000" stroke-width="1.2"/>
<line x1="410.07" y1="607.75" x2="410.07" y2="608.65" stroke="#000" stroke-width="1.2"/>
<line x1="410.07" y1="697.55" x2="410.07" y2="696.65" stroke="#000" stroke-width="1.2"/>
<line x1="432.57" y1="375.75" x2="432.57" y2="378.15" stroke="#000" stroke-width="1.2"/>
<line x1="432.57" y1="607.75" x2="432.57" y2="605.35" stroke="#000" stroke-width="1.2"/>
<line x1="432.57" y1="607.75" x2="432.57" y2="608.65" stroke="#000" stroke-width="1.2"/>
<line x1="432.57" y1="697.55" x2="432.57" y2="696.65" stroke="#000" stroke-width="1.2"/>
<line x1="455.08" y1="375.75" x2="455.08" y2="380.35" stroke="#000" stroke-width="1.2"/>
<line x1="455.08" y1="607.75" x2="455.08" y2="603.15" stroke="#000" stroke-width="1.2"/>
<line x1="455.08" y1="607.75" x2="455.08" y2="609.55" stroke="#000" stroke-width="1.2"/>
<line x1="455.08" y1="697.55" x2="455.08" y2="695.75" stroke="#000" stroke-width="1.2"/>
<line x1="477.58" y1="375.75" x2="477.58" y2="378.15" stroke="#000" stroke-width="1.2"/>
<line x1="477.58" y1="607.75" x2="477.58" y2="605.35" stroke="#000" stroke-width="1.2"/>
<line x1="477.58" y1="607.75" x2="477.58" y2="608.65" stroke="#000" stroke-width="1.2"/>
<line x1="477.58" y1="697.55" x2="477.58" y2="696.65" stroke="#000" stroke-width="1.2"/>
<line x1="500.09" y1="375.75" x2="500.09" y2="378.15" stroke="#000" stroke-width="1.2"/>
<line x1="500.09" y1="607.75" x2="500.09" y2="605.35" stroke="#000" stroke-width="1.2"/>
<line x1="500.09" y1="607.75" x2="500.09" y2="608.65" stroke="#000" stroke-width="1.2"/>
<line x1="500.09" y1="697.55" x2="500.09" y2="696.65" stroke="#000" stroke-width="1.2"/>
<text class="b" transform="translate(95.9 713.75) scale(0.855 1)" font-size="12.4" text-anchor="middle">6</text>
<text class="b" transform="translate(185.92 713.75) scale(0.855 1)" font-size="12.4" text-anchor="middle">8</text>
<text class="b" transform="translate(275.94 713.75) scale(0.855 1)" font-size="12.4" text-anchor="middle">10</text>
<text class="b" transform="translate(365.96 713.75) scale(0.855 1)" font-size="12.4" text-anchor="middle">12</text>
<text class="b" transform="translate(455.98 713.75) scale(0.855 1)" font-size="12.4" text-anchor="middle">14</text>
<text class="b" transform="translate(277.35 727.55) scale(0.855 1)" font-size="12.4" text-anchor="middle">Time [hours]</text>
<text class="b r" transform="translate(12.9 491.15) rotate(-90) scale(0.855 1)" font-size="12.4" text-anchor="middle">RV [m s<tspan class="u" font-size="6.6" dy="-6">-1</tspan><tspan dy="6">]</tspan></text>
<text class="b r" transform="translate(12.9 651.75) rotate(-90) scale(0.855 1)" font-size="12.4" text-anchor="middle">o-c [m s<tspan class="u" font-size="6.6" dy="-6">-1</tspan><tspan dy="6">]</tspan></text>
<text class="b" transform="translate(57 400.95) scale(0.855 1)" font-size="12.4" text-anchor="start">Night 2</text>
<text class="b" transform="translate(490.1 400.95) scale(0.855 1)" font-size="12.4" text-anchor="end">Measured RV</text>
<text class="b" transform="translate(490.1 414.05) scale(0.855 1)" font-size="12.4" text-anchor="end">Pressure correlated RV</text>
<circle cx="497.1" cy="398.05" r="3.7" fill="#000"/>
<path d="M493.4 411.15h7.4M497.1 407.45v7.4M493.7 407.75l6.8 6.8M493.7 414.55l6.8 -6.8" stroke="#000" stroke-width="1.3" fill="none"/>
<rect x="44.2" y="550.15" width="110.3" height="44.2" fill="#fff" stroke="#000" stroke-width="1.5"/>
<circle cx="55.7" cy="559.75" r="3.4" fill="#ff0606"/>
<circle cx="497" cy="559.75" r="3.4" fill="#ff0606"/>
<text class="s" transform="translate(64 563.35) scale(1.0 1)" font-size="13.6" text-anchor="start">σ</text>
<text class="b" transform="translate(72.7 566.35) scale(0.855 1)" font-size="7.8" text-anchor="start">red</text>
<text class="b" transform="translate(84.4 563.35) scale(0.855 1)" font-size="12.4" text-anchor="start">: 1.57 m s</text>
<text class="b u" transform="translate(133.3 558.35) scale(0.72 1)" font-size="7.2" text-anchor="start">-1</text>
<text class="s" transform="translate(409.7 563.35) scale(1.0 1)" font-size="13.6" text-anchor="start">σ</text>
<text class="b" transform="translate(418.4 566.35) scale(0.855 1)" font-size="7.8" text-anchor="start">red</text>
<text class="b" transform="translate(430.1 563.35) scale(0.855 1)" font-size="12.4" text-anchor="start">: 0.73 m s</text>
<text class="b u" transform="translate(479 558.35) scale(0.72 1)" font-size="7.2" text-anchor="start">-1</text>
<circle cx="55.7" cy="572.65" r="3.4" fill="#2fb417"/>
<circle cx="497" cy="572.65" r="3.4" fill="#2fb417"/>
<text class="s" transform="translate(64 576.25) scale(1.0 1)" font-size="13.6" text-anchor="start">σ</text>
<text class="b" transform="translate(72.7 579.25) scale(0.855 1)" font-size="7.8" text-anchor="start">green</text>
<text class="b" transform="translate(91.3 576.25) scale(0.855 1)" font-size="12.4" text-anchor="start">: 1.67 m s</text>
<text class="b u" transform="translate(140.2 571.25) scale(0.72 1)" font-size="7.2" text-anchor="start">-1</text>
<text class="s" transform="translate(402.8 576.25) scale(1.0 1)" font-size="13.6" text-anchor="start">σ</text>
<text class="b" transform="translate(411.5 579.25) scale(0.855 1)" font-size="7.8" text-anchor="start">green</text>
<text class="b" transform="translate(430.1 576.25) scale(0.855 1)" font-size="12.4" text-anchor="start">: 0.83 m s</text>
<text class="b u" transform="translate(479 571.25) scale(0.72 1)" font-size="7.2" text-anchor="start">-1</text>
<circle cx="55.7" cy="585.55" r="3.4" fill="#2a48ff"/>
<circle cx="497" cy="585.55" r="3.4" fill="#2a48ff"/>
<text class="s" transform="translate(64 589.15) scale(1.0 1)" font-size="13.6" text-anchor="start">σ</text>
<text class="b" transform="translate(72.7 592.15) scale(0.855 1)" font-size="7.8" text-anchor="start">blue</text>
<text class="b" transform="translate(86.8 589.15) scale(0.855 1)" font-size="12.4" text-anchor="start">: 1.72 m s</text>
<text class="b u" transform="translate(135.7 584.15) scale(0.72 1)" font-size="7.2" text-anchor="start">-1</text>
<text class="s" transform="translate(403.9 589.15) scale(1.0 1)" font-size="13.6" text-anchor="start">σ</text>
<text class="b" transform="translate(412.6 592.15) scale(0.855 1)" font-size="7.8" text-anchor="start">blue</text>
<text class="b" transform="translate(426.7 589.15) scale(0.855 1)" font-size="12.4" text-anchor="start">: 0.87 m s</text>
<text class="b u" transform="translate(475.6 584.15) scale(0.72 1)" font-size="7.2" text-anchor="start">-1</text>
</g>
</svg>
</body></html>
